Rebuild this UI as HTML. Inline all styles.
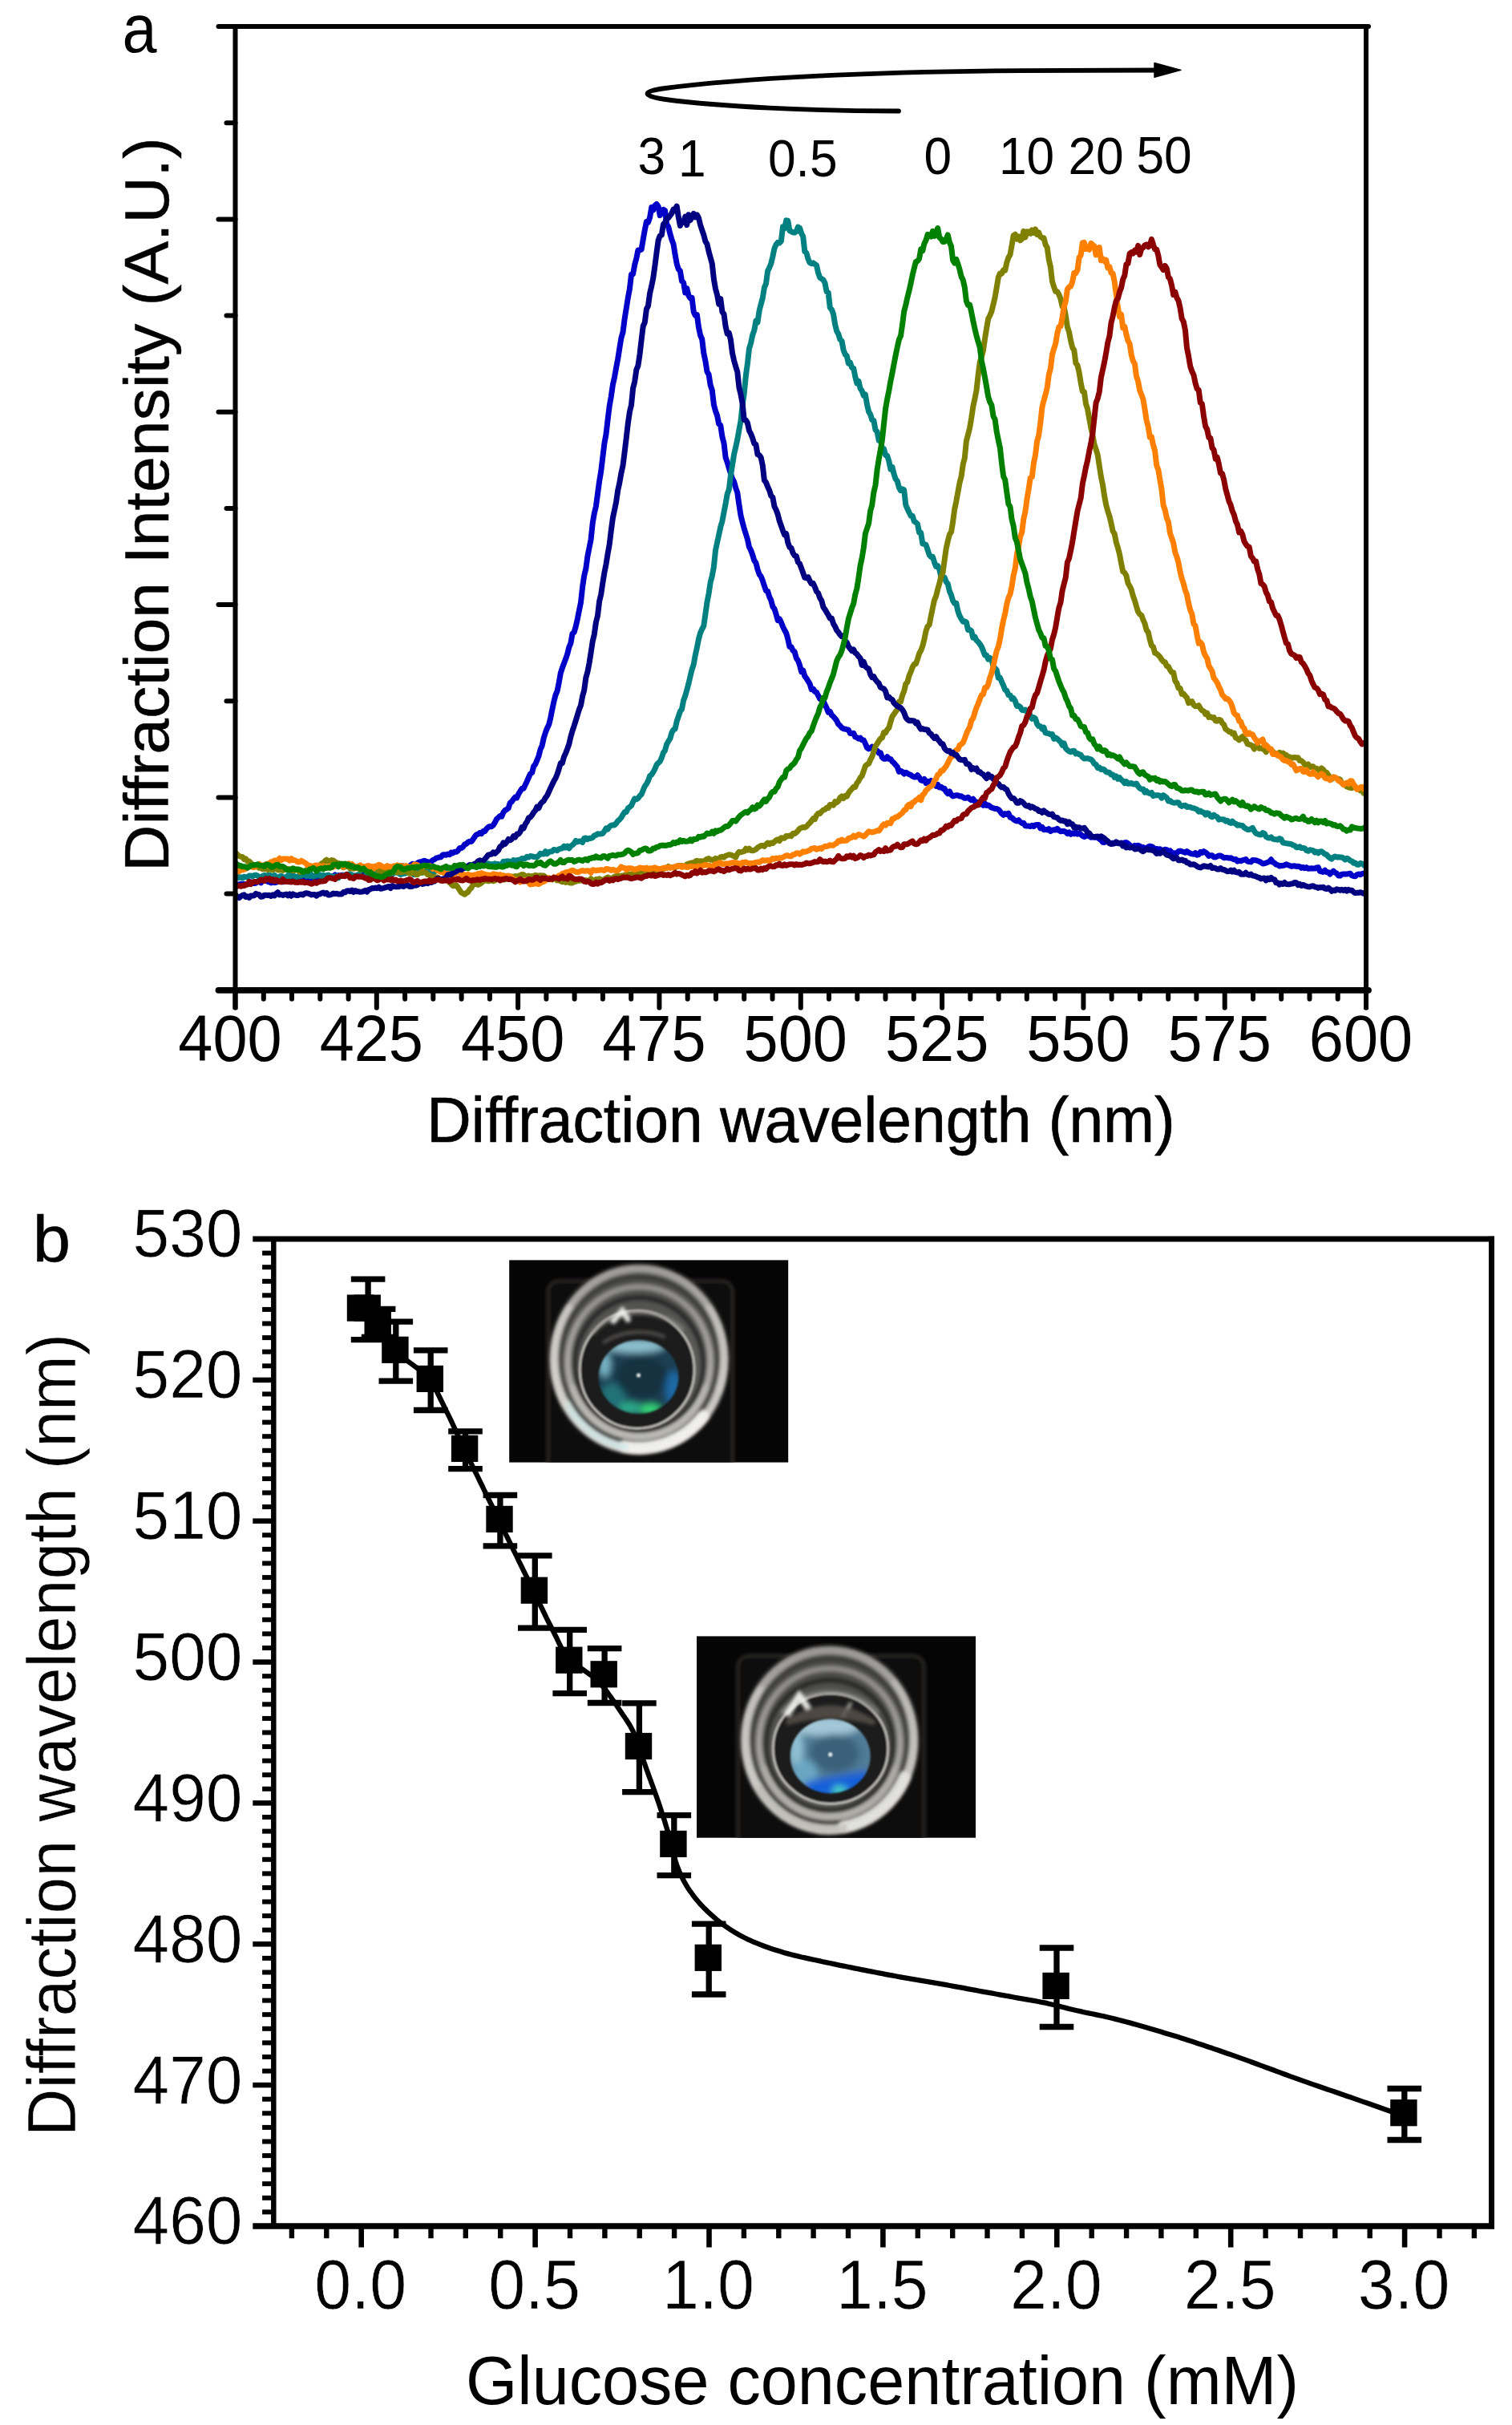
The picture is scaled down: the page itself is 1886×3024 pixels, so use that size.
<!DOCTYPE html>
<html lang="en">
<head>
<meta charset="utf-8">
<title>Diffraction spectra and glucose response</title>
<style>
html,body{margin:0;padding:0;background:#fff;}
body{width:1886px;height:3024px;overflow:hidden;}
svg{display:block;font-family:"Liberation Sans", sans-serif;fill:#000;}
</style>
</head>
<body>
<svg width="1886" height="3024" viewBox="0 0 1886 3024">
<rect width="1886" height="3024" fill="#fff"/>
<g id="panel-a">
<g fill="none" stroke-width="7.0" stroke-linejoin="round" stroke-linecap="butt">
<path d="M294.0,1102.6 L296.1,1103.1 L298.2,1103.2 L300.3,1102.2 L302.4,1103.0 L304.5,1102.3 L306.6,1102.9 L308.7,1102.7 L310.8,1101.1 L312.9,1099.9 L315.0,1101.6 L317.1,1101.4 L319.2,1101.2 L321.3,1099.4 L323.4,1099.7 L325.5,1100.8 L327.6,1098.5 L329.7,1098.5 L331.8,1096.8 L333.9,1099.3 L336.0,1099.9 L338.1,1101.0 L340.2,1099.1 L342.3,1100.7 L344.4,1100.4 L346.5,1099.4 L348.6,1097.8 L350.7,1098.9 L352.8,1099.8 L354.9,1098.8 L357.0,1098.4 L359.1,1099.6 L361.2,1099.8 L363.3,1099.1 L365.4,1098.3 L367.5,1096.9 L369.6,1096.8 L371.7,1098.8 L373.8,1097.7 L375.9,1097.8 L378.0,1096.7 L380.1,1096.3 L382.2,1095.1 L384.3,1096.6 L386.4,1096.8 L388.5,1094.8 L390.6,1095.2 L392.7,1095.5 L394.8,1095.1 L396.9,1098.5 L399.0,1098.0 L401.1,1096.2 L403.2,1095.2 L405.3,1093.6 L407.4,1092.1 L409.5,1093.2 L411.6,1092.9 L413.7,1092.8 L415.8,1093.6 L417.9,1090.9 L420.0,1092.6 L422.1,1091.6 L424.2,1092.5 L426.3,1091.2 L428.4,1091.2 L430.5,1091.2 L432.6,1090.9 L434.7,1091.3 L436.8,1090.8 L438.9,1093.2 L441.0,1095.0 L443.1,1092.5 L445.2,1091.8 L447.3,1092.1 L449.4,1092.6 L451.5,1092.5 L453.6,1090.6 L455.7,1090.6 L457.8,1090.4 L459.9,1091.8 L462.0,1089.6 L464.1,1089.7 L466.2,1091.4 L468.3,1091.6 L470.4,1091.5 L472.5,1089.7 L474.6,1090.8 L476.7,1089.8 L478.8,1090.4 L480.9,1089.9 L483.0,1089.8 L485.1,1090.0 L487.2,1089.1 L489.3,1088.9 L491.4,1087.4 L493.5,1085.8 L495.6,1084.9 L497.7,1084.1 L499.8,1081.6 L501.9,1079.6 L504.0,1081.4 L506.1,1080.9 L508.2,1082.1 L510.3,1081.3 L512.4,1078.7 L514.5,1077.3 L516.6,1078.0 L518.7,1077.6 L520.8,1076.3 L522.9,1075.0 L525.0,1074.8 L527.1,1074.0 L529.2,1073.2 L531.3,1074.1 L533.4,1074.8 L535.5,1074.9 L537.6,1075.1 L539.7,1072.5 L541.8,1071.9 L543.9,1070.2 L546.0,1069.6 L548.1,1068.9 L550.2,1068.7 L552.3,1066.0 L554.4,1065.7 L556.5,1066.3 L558.6,1065.0 L560.7,1065.8 L562.8,1063.1 L564.9,1063.9 L567.0,1062.2 L569.1,1062.3 L571.2,1060.8 L573.3,1057.6 L575.4,1057.6 L577.5,1056.1 L579.6,1052.9 L581.7,1052.3 L583.8,1050.2 L585.9,1049.2 L588.0,1049.5 L590.1,1046.6 L592.2,1043.3 L594.3,1040.8 L596.4,1040.2 L598.5,1038.6 L600.6,1039.7 L602.7,1036.4 L604.8,1036.7 L606.9,1033.5 L609.0,1031.5 L611.1,1030.5 L613.2,1030.7 L615.3,1028.8 L617.4,1025.5 L619.5,1021.4 L621.6,1019.5 L623.7,1017.5 L625.8,1018.2 L627.9,1013.0 L630.0,1010.4 L632.1,1009.3 L634.2,1007.7 L636.3,1001.2 L638.4,999.6 L640.5,996.5 L642.6,994.1 L644.7,994.9 L646.8,990.1 L648.9,986.7 L651.0,983.3 L653.1,983.2 L655.2,978.8 L657.3,974.4 L659.4,969.5 L661.5,964.9 L663.6,963.6 L665.7,955.5 L667.8,953.0 L669.9,947.9 L672.0,942.7 L674.1,934.4 L676.2,929.8 L678.3,920.0 L680.4,913.6 L682.5,908.1 L684.6,903.8 L686.7,895.3 L688.8,884.8 L690.9,874.9 L693.0,866.7 L695.1,861.7 L697.2,851.2 L699.3,839.3 L701.4,832.8 L703.5,827.2 L705.6,821.8 L707.7,815.6 L709.8,807.1 L711.9,802.1 L714.0,790.2 L716.1,788.4 L718.2,781.2 L720.3,772.0 L722.4,761.4 L724.5,751.2 L726.6,732.1 L728.7,717.8 L730.8,709.2 L732.9,693.7 L735.0,683.1 L737.1,672.7 L739.2,652.5 L741.3,640.2 L743.4,631.5 L745.5,615.8 L747.6,600.3 L749.7,587.6 L751.8,570.3 L753.9,552.9 L756.0,541.5 L758.1,523.4 L760.2,506.3 L762.3,494.5 L764.4,479.8 L766.5,470.4 L768.6,458.7 L770.7,447.6 L772.8,434.3 L774.9,421.5 L777.0,414.2 L779.1,397.8 L781.2,384.7 L783.3,371.3 L785.4,360.5 L787.5,342.1 L789.6,341.7 L791.7,330.0 L793.8,322.4 L795.9,312.0 L798.0,311.8 L800.1,311.2 L802.2,298.6 L804.3,286.7 L806.4,276.5 L808.5,277.3 L810.6,271.2 L812.7,258.5 L814.8,262.1 L816.9,256.2 L819.0,254.5 L821.1,257.3 L823.2,268.6 L825.3,262.7 L827.4,261.3 L829.5,262.5 L831.6,279.5 L833.7,282.8 L835.8,291.3 L837.9,298.8 L840.0,304.3 L842.1,317.4 L844.2,329.0 L846.3,335.7 L848.4,337.7 L850.5,350.5 L852.6,352.3 L854.7,365.0 L856.8,359.5 L858.9,368.5 L861.0,371.8 L863.1,371.3 L865.2,388.7 L867.3,393.4 L869.4,392.7 L871.5,408.2 L873.6,418.1 L875.7,423.0 L877.8,440.3 L879.9,450.2 L882.0,463.5 L884.1,467.0 L886.2,480.4 L888.3,486.7 L890.4,504.7 L892.5,512.5 L894.6,518.3 L896.7,528.7 L898.8,530.5 L900.9,544.7 L903.0,552.7 L905.1,570.6 L907.2,576.4 L909.3,583.8 L911.4,590.4 L913.5,596.8 L915.6,600.7 L917.7,608.3 L919.8,614.4 L921.9,629.3 L924.0,642.8 L926.1,651.2 L928.2,659.1 L930.3,665.7 L932.4,672.6 L934.5,682.2 L936.6,686.2 L938.7,692.0 L940.8,699.0 L942.9,701.9 L945.0,710.0 L947.1,716.2 L949.2,718.7 L951.3,724.0 L953.4,730.7 L955.5,736.6 L957.6,737.3 L959.7,744.3 L961.8,748.6 L963.9,756.7 L966.0,759.2 L968.1,766.0 L970.2,773.7 L972.3,771.9 L974.4,776.0 L976.5,781.5 L978.6,785.6 L980.7,789.5 L982.8,796.9 L984.9,806.5 L987.0,806.7 L989.1,811.2 L991.2,813.0 L993.3,820.7 L995.4,823.7 L997.5,829.4 L999.6,837.7 L1001.7,836.0 L1003.8,843.2 L1005.9,845.9 L1008.0,849.3 L1010.1,852.8 L1012.2,859.6 L1014.3,859.0 L1016.4,862.3 L1018.5,863.4 L1020.6,867.4 L1022.7,871.5 L1024.8,873.0 L1026.9,873.4 L1029.0,878.7 L1031.1,882.8 L1033.2,888.2 L1035.3,887.3 L1037.4,891.7 L1039.5,893.4 L1041.6,895.9 L1043.7,898.8 L1045.8,903.1 L1047.9,904.9 L1050.0,907.4 L1052.1,908.7 L1054.2,909.1 L1056.3,909.7 L1058.4,910.2 L1060.5,914.5 L1062.6,914.6 L1064.7,914.3 L1066.8,919.0 L1068.9,919.6 L1071.0,921.3 L1073.1,920.2 L1075.2,922.8 L1077.3,923.0 L1079.4,927.2 L1081.5,932.4 L1083.6,933.9 L1085.7,932.9 L1087.8,931.1 L1089.9,932.9 L1092.0,935.9 L1094.1,936.0 L1096.2,939.0 L1098.3,938.7 L1100.4,944.6 L1102.5,946.3 L1104.6,946.2 L1106.7,943.7 L1108.8,946.5 L1110.9,946.4 L1113.0,949.6 L1115.1,951.4 L1117.2,953.9 L1119.3,956.3 L1121.4,962.3 L1123.5,961.3 L1125.6,962.6 L1127.7,965.0 L1129.8,963.2 L1131.9,964.3 L1134.0,965.7 L1136.1,966.3 L1138.2,968.1 L1140.3,968.9 L1142.4,969.0 L1144.5,966.6 L1146.6,969.3 L1148.7,973.0 L1150.8,973.6 L1152.9,971.5 L1155.0,976.7 L1157.1,974.5 L1159.2,976.3 L1161.3,973.5 L1163.4,976.0 L1165.5,976.0 L1167.6,980.3 L1169.7,978.4 L1171.8,982.0 L1173.9,981.3 L1176.0,983.4 L1178.1,983.3 L1180.2,987.4 L1182.3,989.7 L1184.4,986.9 L1186.5,990.9 L1188.6,992.8 L1190.7,992.2 L1192.8,991.8 L1194.9,991.8 L1197.0,992.9 L1199.1,992.8 L1201.2,994.2 L1203.3,995.3 L1205.4,995.2 L1207.5,994.2 L1209.6,996.4 L1211.7,997.7 L1213.8,996.3 L1215.9,999.4 L1218.0,1000.1 L1220.1,1000.8 L1222.2,1003.0 L1224.3,1001.8 L1226.4,1004.3 L1228.5,1001.9 L1230.6,1004.5 L1232.7,1003.9 L1234.8,1005.3 L1236.9,1007.2 L1239.0,1007.7 L1241.1,1008.4 L1243.2,1008.5 L1245.3,1009.4 L1247.4,1011.7 L1249.5,1014.6 L1251.6,1016.3 L1253.7,1014.6 L1255.8,1015.5 L1257.9,1014.1 L1260.0,1019.2 L1262.1,1019.6 L1264.2,1021.6 L1266.3,1023.2 L1268.4,1023.9 L1270.5,1022.7 L1272.6,1025.0 L1274.7,1026.5 L1276.8,1026.2 L1278.9,1029.8 L1281.0,1030.1 L1283.1,1030.1 L1285.2,1030.6 L1287.3,1029.3 L1289.4,1030.5 L1291.5,1028.7 L1293.6,1028.6 L1295.7,1028.4 L1297.8,1032.9 L1299.9,1031.4 L1302.0,1034.7 L1304.1,1034.4 L1306.2,1034.9 L1308.3,1033.6 L1310.4,1036.6 L1312.5,1035.1 L1314.6,1034.8 L1316.7,1035.0 L1318.8,1033.3 L1320.9,1035.5 L1323.0,1036.8 L1325.1,1036.6 L1327.2,1036.6 L1329.3,1037.4 L1331.4,1039.5 L1333.5,1037.9 L1335.6,1040.3 L1337.7,1038.9 L1339.8,1039.8 L1341.9,1037.9 L1344.0,1040.2 L1346.1,1039.2 L1348.2,1040.7 L1350.3,1042.4 L1352.4,1043.5 L1354.5,1042.5 L1356.6,1042.3 L1358.7,1042.2 L1360.8,1044.3 L1362.9,1043.9 L1365.0,1044.2 L1367.1,1044.1 L1369.2,1044.5 L1371.3,1046.1 L1373.4,1047.6 L1375.5,1050.2 L1377.6,1050.5 L1379.7,1049.4 L1381.8,1049.5 L1383.9,1051.6 L1386.0,1051.8 L1388.1,1051.2 L1390.2,1051.4 L1392.3,1050.6 L1394.4,1051.7 L1396.5,1051.7 L1398.6,1051.5 L1400.7,1052.1 L1402.8,1050.7 L1404.9,1050.6 L1407.0,1051.8 L1409.1,1053.6 L1411.2,1055.8 L1413.3,1055.9 L1415.4,1054.3 L1417.5,1054.8 L1419.6,1054.2 L1421.7,1055.1 L1423.8,1056.6 L1425.9,1056.5 L1428.0,1058.6 L1430.1,1057.6 L1432.2,1056.0 L1434.3,1055.1 L1436.4,1055.6 L1438.5,1056.8 L1440.6,1058.7 L1442.7,1058.5 L1444.8,1058.9 L1446.9,1058.7 L1449.0,1060.9 L1451.1,1060.2 L1453.2,1059.2 L1455.3,1059.6 L1457.4,1061.5 L1459.5,1060.7 L1461.6,1063.3 L1463.7,1063.6 L1465.8,1064.0 L1467.9,1063.9 L1470.0,1061.5 L1472.1,1061.1 L1474.2,1061.8 L1476.3,1062.5 L1478.4,1063.2 L1480.5,1061.5 L1482.6,1063.1 L1484.7,1064.2 L1486.8,1064.9 L1488.9,1065.2 L1491.0,1063.6 L1493.1,1066.2 L1495.2,1065.6 L1497.3,1062.4 L1499.4,1063.4 L1501.5,1061.6 L1503.6,1063.0 L1505.7,1064.4 L1507.8,1067.4 L1509.9,1066.7 L1512.0,1066.7 L1514.1,1068.8 L1516.2,1069.0 L1518.3,1067.9 L1520.4,1067.0 L1522.5,1067.1 L1524.6,1068.2 L1526.7,1069.8 L1528.8,1069.5 L1530.9,1069.5 L1533.0,1070.1 L1535.1,1069.7 L1537.2,1070.8 L1539.3,1071.8 L1541.4,1071.4 L1543.5,1074.2 L1545.6,1073.2 L1547.7,1073.7 L1549.8,1072.8 L1551.9,1072.2 L1554.0,1071.5 L1556.1,1074.1 L1558.2,1074.6 L1560.3,1074.9 L1562.4,1072.5 L1564.5,1072.7 L1566.6,1072.8 L1568.7,1073.5 L1570.8,1074.2 L1572.9,1075.5 L1575.0,1077.0 L1577.1,1076.8 L1579.2,1076.1 L1581.3,1075.2 L1583.4,1074.5 L1585.5,1071.8 L1587.6,1075.2 L1589.7,1076.2 L1591.8,1078.1 L1593.9,1078.6 L1596.0,1080.0 L1598.1,1079.5 L1600.2,1079.4 L1602.3,1079.0 L1604.4,1077.7 L1606.5,1078.6 L1608.6,1079.4 L1610.7,1080.3 L1612.8,1080.0 L1614.9,1079.8 L1617.0,1080.5 L1619.1,1080.2 L1621.2,1080.6 L1623.3,1082.4 L1625.4,1081.4 L1627.5,1082.7 L1629.6,1081.6 L1631.7,1083.3 L1633.8,1083.0 L1635.9,1082.7 L1638.0,1082.9 L1640.1,1083.1 L1642.2,1081.9 L1644.3,1081.6 L1646.4,1086.4 L1648.5,1087.0 L1650.6,1087.4 L1652.7,1085.3 L1654.8,1087.5 L1656.9,1087.8 L1659.0,1090.0 L1661.1,1087.9 L1663.2,1086.2 L1665.3,1087.9 L1667.4,1089.2 L1669.5,1091.9 L1671.6,1092.1 L1673.7,1090.2 L1675.8,1090.1 L1677.9,1090.0 L1680.0,1090.1 L1682.1,1089.5 L1684.2,1089.2 L1686.3,1091.8 L1688.4,1092.6 L1690.5,1092.8 L1692.6,1090.7 L1694.7,1089.9 L1696.8,1090.8 L1698.9,1089.6 L1701.0,1089.0 L1703.1,1089.1" stroke="#0000c8"/>
<path d="M294.0,1093.9 L296.1,1092.8 L298.2,1094.6 L300.3,1093.8 L302.4,1095.1 L304.5,1093.2 L306.6,1093.8 L308.7,1093.5 L310.8,1092.0 L312.9,1092.0 L315.0,1092.8 L317.1,1091.4 L319.2,1091.2 L321.3,1092.0 L323.4,1093.9 L325.5,1093.8 L327.6,1092.3 L329.7,1091.4 L331.8,1091.8 L333.9,1091.8 L336.0,1091.0 L338.1,1092.2 L340.2,1092.4 L342.3,1091.4 L344.4,1093.3 L346.5,1094.5 L348.6,1093.1 L350.7,1092.1 L352.8,1093.5 L354.9,1094.0 L357.0,1095.4 L359.1,1091.6 L361.2,1093.9 L363.3,1090.0 L365.4,1091.9 L367.5,1092.5 L369.6,1094.0 L371.7,1093.2 L373.8,1091.9 L375.9,1092.2 L378.0,1091.1 L380.1,1089.7 L382.2,1092.5 L384.3,1091.2 L386.4,1092.6 L388.5,1090.7 L390.6,1093.1 L392.7,1092.5 L394.8,1091.6 L396.9,1091.9 L399.0,1090.8 L401.1,1093.3 L403.2,1091.4 L405.3,1091.9 L407.4,1091.6 L409.5,1091.1 L411.6,1092.8 L413.7,1093.0 L415.8,1093.5 L417.9,1092.8 L420.0,1092.5 L422.1,1094.7 L424.2,1092.2 L426.3,1092.6 L428.4,1091.6 L430.5,1091.5 L432.6,1091.4 L434.7,1090.0 L436.8,1089.7 L438.9,1091.1 L441.0,1091.7 L443.1,1092.2 L445.2,1091.4 L447.3,1090.4 L449.4,1091.4 L451.5,1093.2 L453.6,1093.6 L455.7,1092.0 L457.8,1090.9 L459.9,1091.3 L462.0,1090.2 L464.1,1090.6 L466.2,1090.8 L468.3,1089.9 L470.4,1091.3 L472.5,1090.2 L474.6,1091.0 L476.7,1088.8 L478.8,1089.0 L480.9,1088.5 L483.0,1090.3 L485.1,1089.9 L487.2,1090.8 L489.3,1090.2 L491.4,1088.7 L493.5,1087.6 L495.6,1088.1 L497.7,1089.2 L499.8,1090.5 L501.9,1089.9 L504.0,1089.2 L506.1,1089.0 L508.2,1086.0 L510.3,1086.8 L512.4,1087.3 L514.5,1087.8 L516.6,1090.8 L518.7,1090.0 L520.8,1086.2 L522.9,1087.5 L525.0,1087.4 L527.1,1088.3 L529.2,1086.2 L531.3,1087.2 L533.4,1086.6 L535.5,1087.0 L537.6,1087.3 L539.7,1087.2 L541.8,1087.6 L543.9,1084.5 L546.0,1084.3 L548.1,1083.2 L550.2,1084.5 L552.3,1085.8 L554.4,1084.2 L556.5,1084.8 L558.6,1085.2 L560.7,1084.3 L562.8,1085.2 L564.9,1084.8 L567.0,1084.9 L569.1,1085.0 L571.2,1085.5 L573.3,1082.7 L575.4,1082.7 L577.5,1082.2 L579.6,1082.6 L581.7,1081.9 L583.8,1081.3 L585.9,1080.3 L588.0,1079.6 L590.1,1080.6 L592.2,1079.2 L594.3,1080.2 L596.4,1079.7 L598.5,1080.7 L600.6,1079.1 L602.7,1079.1 L604.8,1077.4 L606.9,1077.4 L609.0,1076.8 L611.1,1079.4 L613.2,1077.6 L615.3,1078.1 L617.4,1076.7 L619.5,1077.9 L621.6,1077.5 L623.7,1078.8 L625.8,1079.0 L627.9,1074.2 L630.0,1074.6 L632.1,1073.8 L634.2,1073.9 L636.3,1074.2 L638.4,1075.3 L640.5,1072.5 L642.6,1073.5 L644.7,1072.8 L646.8,1072.5 L648.9,1071.8 L651.0,1070.4 L653.1,1071.1 L655.2,1070.5 L657.3,1068.2 L659.4,1068.9 L661.5,1067.6 L663.6,1067.7 L665.7,1068.6 L667.8,1068.6 L669.9,1068.8 L672.0,1066.7 L674.1,1064.2 L676.2,1065.0 L678.3,1064.9 L680.4,1061.6 L682.5,1064.7 L684.6,1062.4 L686.7,1062.0 L688.8,1061.7 L690.9,1059.5 L693.0,1059.9 L695.1,1060.7 L697.2,1058.9 L699.3,1058.2 L701.4,1057.8 L703.5,1055.2 L705.6,1057.0 L707.7,1055.1 L709.8,1057.9 L711.9,1055.0 L714.0,1053.8 L716.1,1051.7 L718.2,1048.5 L720.3,1049.9 L722.4,1049.0 L724.5,1048.9 L726.6,1050.4 L728.7,1045.3 L730.8,1045.0 L732.9,1046.7 L735.0,1045.3 L737.1,1045.4 L739.2,1044.5 L741.3,1041.9 L743.4,1041.4 L745.5,1039.8 L747.6,1039.9 L749.7,1039.8 L751.8,1039.3 L753.9,1036.5 L756.0,1032.9 L758.1,1034.2 L760.2,1030.9 L762.3,1029.4 L764.4,1028.7 L766.5,1029.0 L768.6,1026.7 L770.7,1023.6 L772.8,1022.1 L774.9,1019.6 L777.0,1015.8 L779.1,1012.6 L781.2,1012.7 L783.3,1007.9 L785.4,1006.4 L787.5,1004.6 L789.6,1000.0 L791.7,995.9 L793.8,996.8 L795.9,995.4 L798.0,992.5 L800.1,990.7 L802.2,985.5 L804.3,980.3 L806.4,977.6 L808.5,973.6 L810.6,967.6 L812.7,966.0 L814.8,962.8 L816.9,958.9 L819.0,953.7 L821.1,951.5 L823.2,949.5 L825.3,945.0 L827.4,938.7 L829.5,935.9 L831.6,928.2 L833.7,924.4 L835.8,921.2 L837.9,913.8 L840.0,910.1 L842.1,908.9 L844.2,899.4 L846.3,893.3 L848.4,887.1 L850.5,884.3 L852.6,873.4 L854.7,867.8 L856.8,860.4 L858.9,852.5 L861.0,843.5 L863.1,834.9 L865.2,828.7 L867.3,816.9 L869.4,807.6 L871.5,796.8 L873.6,789.2 L875.7,784.5 L877.8,780.5 L879.9,765.8 L882.0,750.7 L884.1,740.1 L886.2,726.2 L888.3,718.2 L890.4,706.9 L892.5,686.4 L894.6,676.4 L896.7,667.1 L898.8,657.0 L900.9,649.9 L903.0,638.9 L905.1,628.0 L907.2,616.1 L909.3,610.6 L911.4,592.9 L913.5,580.1 L915.6,566.5 L917.7,557.6 L919.8,548.1 L921.9,536.0 L924.0,524.9 L926.1,505.6 L928.2,491.0 L930.3,468.8 L932.4,453.6 L934.5,434.5 L936.6,428.0 L938.7,417.8 L940.8,412.1 L942.9,400.0 L945.0,402.1 L947.1,387.4 L949.2,379.3 L951.3,371.4 L953.4,358.7 L955.5,353.7 L957.6,337.9 L959.7,333.8 L961.8,328.6 L963.9,319.8 L966.0,309.6 L968.1,305.0 L970.2,302.3 L972.3,303.0 L974.4,300.7 L976.5,282.7 L978.6,284.8 L980.7,274.9 L982.8,275.3 L984.9,287.6 L987.0,288.7 L989.1,289.8 L991.2,290.1 L993.3,288.7 L995.4,283.1 L997.5,284.3 L999.6,290.7 L1001.7,294.9 L1003.8,313.6 L1005.9,315.4 L1008.0,322.9 L1010.1,327.5 L1012.2,328.7 L1014.3,327.9 L1016.4,329.5 L1018.5,330.8 L1020.6,340.2 L1022.7,346.2 L1024.8,347.6 L1026.9,348.9 L1029.0,352.8 L1031.1,363.6 L1033.2,365.0 L1035.3,383.5 L1037.4,386.0 L1039.5,391.6 L1041.6,404.4 L1043.7,412.8 L1045.8,416.5 L1047.9,423.5 L1050.0,425.0 L1052.1,436.5 L1054.2,441.9 L1056.3,443.9 L1058.4,453.1 L1060.5,452.2 L1062.6,458.4 L1064.7,459.2 L1066.8,469.9 L1068.9,478.0 L1071.0,475.2 L1073.1,484.5 L1075.2,487.3 L1077.3,493.5 L1079.4,492.0 L1081.5,504.5 L1083.6,513.4 L1085.7,516.8 L1087.8,523.6 L1089.9,524.5 L1092.0,536.1 L1094.1,538.2 L1096.2,549.0 L1098.3,547.6 L1100.4,559.6 L1102.5,559.5 L1104.6,567.7 L1106.7,568.3 L1108.8,575.0 L1110.9,585.1 L1113.0,582.5 L1115.1,591.1 L1117.2,597.5 L1119.3,599.8 L1121.4,608.1 L1123.5,611.6 L1125.6,609.8 L1127.7,611.1 L1129.8,629.7 L1131.9,634.5 L1134.0,639.0 L1136.1,643.2 L1138.2,643.3 L1140.3,650.1 L1142.4,651.4 L1144.5,653.5 L1146.6,664.0 L1148.7,664.3 L1150.8,678.0 L1152.9,678.4 L1155.0,679.4 L1157.1,685.7 L1159.2,692.0 L1161.3,694.4 L1163.4,694.2 L1165.5,701.1 L1167.6,706.4 L1169.7,705.5 L1171.8,710.1 L1173.9,719.1 L1176.0,720.8 L1178.1,720.0 L1180.2,725.5 L1182.3,728.0 L1184.4,737.3 L1186.5,742.0 L1188.6,748.9 L1190.7,752.5 L1192.8,752.3 L1194.9,762.3 L1197.0,768.0 L1199.1,771.7 L1201.2,775.2 L1203.3,774.8 L1205.4,776.1 L1207.5,785.6 L1209.6,785.2 L1211.7,786.8 L1213.8,795.3 L1215.9,793.9 L1218.0,798.5 L1220.1,800.4 L1222.2,803.2 L1224.3,806.3 L1226.4,811.4 L1228.5,817.0 L1230.6,817.1 L1232.7,822.1 L1234.8,820.5 L1236.9,822.7 L1239.0,830.9 L1241.1,833.1 L1243.2,835.5 L1245.3,845.2 L1247.4,845.1 L1249.5,850.3 L1251.6,854.8 L1253.7,860.2 L1255.8,861.4 L1257.9,866.7 L1260.0,866.9 L1262.1,871.6 L1264.2,870.7 L1266.3,874.3 L1268.4,880.5 L1270.5,880.0 L1272.6,881.5 L1274.7,885.3 L1276.8,885.8 L1278.9,885.0 L1281.0,887.7 L1283.1,886.9 L1285.2,893.1 L1287.3,896.4 L1289.4,894.7 L1291.5,896.2 L1293.6,902.8 L1295.7,905.6 L1297.8,905.8 L1299.9,909.1 L1302.0,907.1 L1304.1,913.9 L1306.2,914.4 L1308.3,914.8 L1310.4,915.7 L1312.5,915.6 L1314.6,921.4 L1316.7,919.8 L1318.8,921.2 L1320.9,923.3 L1323.0,925.1 L1325.1,929.3 L1327.2,926.9 L1329.3,933.2 L1331.4,935.3 L1333.5,936.9 L1335.6,937.8 L1337.7,936.5 L1339.8,936.2 L1341.9,940.0 L1344.0,939.4 L1346.1,940.7 L1348.2,941.4 L1350.3,944.4 L1352.4,946.1 L1354.5,945.7 L1356.6,945.7 L1358.7,946.3 L1360.8,946.8 L1362.9,949.0 L1365.0,952.5 L1367.1,953.2 L1369.2,957.6 L1371.3,957.0 L1373.4,959.5 L1375.5,959.0 L1377.6,960.0 L1379.7,962.7 L1381.8,963.1 L1383.9,963.3 L1386.0,966.0 L1388.1,965.9 L1390.2,969.3 L1392.3,967.9 L1394.4,971.3 L1396.5,969.7 L1398.6,972.3 L1400.7,973.8 L1402.8,976.6 L1404.9,974.7 L1407.0,977.3 L1409.1,977.0 L1411.2,976.5 L1413.3,977.8 L1415.4,978.0 L1417.5,977.0 L1419.6,980.5 L1421.7,983.0 L1423.8,984.1 L1425.9,983.9 L1428.0,988.2 L1430.1,986.5 L1432.2,988.8 L1434.3,989.6 L1436.4,988.5 L1438.5,992.5 L1440.6,991.7 L1442.7,991.7 L1444.8,991.7 L1446.9,992.3 L1449.0,995.1 L1451.1,991.7 L1453.2,993.2 L1455.3,994.8 L1457.4,999.0 L1459.5,998.4 L1461.6,1000.3 L1463.7,1001.0 L1465.8,1001.2 L1467.9,1000.7 L1470.0,1000.7 L1472.1,1004.2 L1474.2,1005.4 L1476.3,1004.4 L1478.4,1004.2 L1480.5,1006.5 L1482.6,1006.1 L1484.7,1006.4 L1486.8,1007.5 L1488.9,1007.7 L1491.0,1008.6 L1493.1,1009.4 L1495.2,1012.1 L1497.3,1011.0 L1499.4,1012.7 L1501.5,1013.2 L1503.6,1015.9 L1505.7,1013.8 L1507.8,1014.6 L1509.9,1017.8 L1512.0,1018.7 L1514.1,1016.1 L1516.2,1017.9 L1518.3,1018.8 L1520.4,1022.2 L1522.5,1021.7 L1524.6,1021.7 L1526.7,1022.0 L1528.8,1024.1 L1530.9,1023.3 L1533.0,1025.4 L1535.1,1026.5 L1537.2,1024.1 L1539.3,1026.5 L1541.4,1027.1 L1543.5,1029.3 L1545.6,1028.7 L1547.7,1029.3 L1549.8,1029.4 L1551.9,1031.9 L1554.0,1033.2 L1556.1,1034.4 L1558.2,1034.6 L1560.3,1033.5 L1562.4,1032.4 L1564.5,1036.4 L1566.6,1039.3 L1568.7,1039.8 L1570.8,1040.8 L1572.9,1040.9 L1575.0,1038.5 L1577.1,1039.2 L1579.2,1043.3 L1581.3,1044.7 L1583.4,1044.9 L1585.5,1043.9 L1587.6,1046.1 L1589.7,1046.7 L1591.8,1046.8 L1593.9,1047.2 L1596.0,1045.6 L1598.1,1046.5 L1600.2,1050.8 L1602.3,1051.2 L1604.4,1051.6 L1606.5,1052.1 L1608.6,1052.2 L1610.7,1052.6 L1612.8,1053.9 L1614.9,1054.5 L1617.0,1056.7 L1619.1,1056.7 L1621.2,1055.7 L1623.3,1057.6 L1625.4,1057.4 L1627.5,1057.9 L1629.6,1060.5 L1631.7,1061.3 L1633.8,1059.8 L1635.9,1060.1 L1638.0,1060.6 L1640.1,1063.1 L1642.2,1062.1 L1644.3,1063.8 L1646.4,1062.0 L1648.5,1061.7 L1650.6,1063.3 L1652.7,1065.2 L1654.8,1065.7 L1656.9,1068.3 L1659.0,1070.0 L1661.1,1071.2 L1663.2,1068.9 L1665.3,1068.0 L1667.4,1068.9 L1669.5,1068.7 L1671.6,1069.0 L1673.7,1069.0 L1675.8,1070.3 L1677.9,1072.0 L1680.0,1070.2 L1682.1,1071.3 L1684.2,1073.3 L1686.3,1073.8 L1688.4,1076.3 L1690.5,1076.0 L1692.6,1078.2 L1694.7,1078.2 L1696.8,1076.5 L1698.9,1076.9 L1701.0,1078.2 L1703.1,1080.9" stroke="#008080"/>
<path d="M294.0,1063.5 L296.1,1065.5 L298.2,1067.4 L300.3,1068.2 L302.4,1068.5 L304.5,1071.6 L306.6,1070.8 L308.7,1074.0 L310.8,1074.1 L312.9,1076.1 L315.0,1078.0 L317.1,1078.6 L319.2,1080.7 L321.3,1080.4 L323.4,1082.5 L325.5,1081.9 L327.6,1083.8 L329.7,1083.8 L331.8,1082.9 L333.9,1084.6 L336.0,1083.8 L338.1,1084.2 L340.2,1084.8 L342.3,1083.5 L344.4,1082.6 L346.5,1084.9 L348.6,1084.9 L350.7,1084.2 L352.8,1085.4 L354.9,1084.3 L357.0,1083.3 L359.1,1083.5 L361.2,1084.0 L363.3,1085.0 L365.4,1085.8 L367.5,1085.3 L369.6,1083.9 L371.7,1084.8 L373.8,1087.5 L375.9,1086.5 L378.0,1086.2 L380.1,1086.2 L382.2,1084.9 L384.3,1085.3 L386.4,1084.2 L388.5,1082.8 L390.6,1081.4 L392.7,1081.3 L394.8,1082.0 L396.9,1079.8 L399.0,1079.1 L401.1,1076.8 L403.2,1076.4 L405.3,1073.7 L407.4,1072.2 L409.5,1074.2 L411.6,1073.4 L413.7,1072.6 L415.8,1073.0 L417.9,1074.5 L420.0,1076.3 L422.1,1076.2 L424.2,1077.4 L426.3,1077.9 L428.4,1081.7 L430.5,1080.8 L432.6,1080.4 L434.7,1080.6 L436.8,1083.1 L438.9,1082.6 L441.0,1083.3 L443.1,1082.3 L445.2,1082.8 L447.3,1082.3 L449.4,1084.2 L451.5,1082.1 L453.6,1082.1 L455.7,1083.1 L457.8,1083.6 L459.9,1083.2 L462.0,1083.0 L464.1,1084.8 L466.2,1083.1 L468.3,1083.1 L470.4,1084.4 L472.5,1085.8 L474.6,1086.6 L476.7,1085.2 L478.8,1086.6 L480.9,1086.4 L483.0,1088.2 L485.1,1086.1 L487.2,1088.2 L489.3,1088.2 L491.4,1087.0 L493.5,1086.6 L495.6,1087.9 L497.7,1087.2 L499.8,1087.4 L501.9,1087.4 L504.0,1086.3 L506.1,1086.7 L508.2,1086.9 L510.3,1089.2 L512.4,1089.3 L514.5,1088.4 L516.6,1087.8 L518.7,1090.3 L520.8,1090.7 L522.9,1088.9 L525.0,1088.2 L527.1,1087.3 L529.2,1087.9 L531.3,1088.3 L533.4,1090.7 L535.5,1091.2 L537.6,1092.8 L539.7,1093.9 L541.8,1093.3 L543.9,1094.2 L546.0,1094.0 L548.1,1097.1 L550.2,1097.1 L552.3,1096.4 L554.4,1096.8 L556.5,1097.9 L558.6,1098.4 L560.7,1100.5 L562.8,1102.5 L564.9,1104.7 L567.0,1104.3 L569.1,1103.8 L571.2,1106.6 L573.3,1109.8 L575.4,1113.2 L577.5,1114.2 L579.6,1115.3 L581.7,1113.5 L583.8,1112.5 L585.9,1108.9 L588.0,1107.2 L590.1,1103.2 L592.2,1101.9 L594.3,1102.7 L596.4,1103.3 L598.5,1102.2 L600.6,1100.9 L602.7,1098.9 L604.8,1098.2 L606.9,1097.9 L609.0,1098.8 L611.1,1098.2 L613.2,1097.9 L615.3,1098.8 L617.4,1098.0 L619.5,1096.3 L621.6,1093.6 L623.7,1096.6 L625.8,1096.2 L627.9,1097.1 L630.0,1096.7 L632.1,1095.1 L634.2,1093.6 L636.3,1094.4 L638.4,1093.1 L640.5,1093.2 L642.6,1092.5 L644.7,1095.0 L646.8,1092.0 L648.9,1091.9 L651.0,1090.4 L653.1,1090.8 L655.2,1092.3 L657.3,1092.4 L659.4,1092.1 L661.5,1093.4 L663.6,1092.6 L665.7,1093.4 L667.8,1091.4 L669.9,1092.1 L672.0,1091.9 L674.1,1091.7 L676.2,1091.9 L678.3,1092.0 L680.4,1093.9 L682.5,1095.3 L684.6,1096.1 L686.7,1095.6 L688.8,1096.9 L690.9,1093.9 L693.0,1094.9 L695.1,1097.9 L697.2,1097.0 L699.3,1098.9 L701.4,1099.8 L703.5,1098.3 L705.6,1100.4 L707.7,1097.8 L709.8,1100.6 L711.9,1101.1 L714.0,1100.9 L716.1,1099.7 L718.2,1099.4 L720.3,1098.0 L722.4,1098.4 L724.5,1097.9 L726.6,1097.3 L728.7,1098.4 L730.8,1097.5 L732.9,1098.8 L735.0,1098.4 L737.1,1095.7 L739.2,1098.2 L741.3,1097.9 L743.4,1096.6 L745.5,1096.7 L747.6,1095.8 L749.7,1097.1 L751.8,1097.3 L753.9,1096.3 L756.0,1095.2 L758.1,1093.9 L760.2,1095.4 L762.3,1095.1 L764.4,1095.4 L766.5,1093.0 L768.6,1092.7 L770.7,1091.6 L772.8,1093.3 L774.9,1092.1 L777.0,1092.2 L779.1,1091.3 L781.2,1091.1 L783.3,1089.9 L785.4,1090.5 L787.5,1090.0 L789.6,1090.9 L791.7,1089.8 L793.8,1087.6 L795.9,1088.5 L798.0,1088.6 L800.1,1087.8 L802.2,1085.5 L804.3,1087.4 L806.4,1086.6 L808.5,1086.9 L810.6,1086.7 L812.7,1084.4 L814.8,1087.5 L816.9,1086.0 L819.0,1087.2 L821.1,1084.7 L823.2,1084.3 L825.3,1083.2 L827.4,1083.5 L829.5,1082.2 L831.6,1082.6 L833.7,1080.5 L835.8,1082.0 L837.9,1081.4 L840.0,1081.7 L842.1,1081.8 L844.2,1080.7 L846.3,1079.6 L848.4,1079.8 L850.5,1079.5 L852.6,1080.9 L854.7,1080.4 L856.8,1077.7 L858.9,1077.0 L861.0,1076.4 L863.1,1075.8 L865.2,1076.7 L867.3,1074.2 L869.4,1073.2 L871.5,1074.7 L873.6,1073.7 L875.7,1073.7 L877.8,1074.6 L879.9,1072.7 L882.0,1071.2 L884.1,1070.6 L886.2,1072.1 L888.3,1072.4 L890.4,1071.7 L892.5,1070.4 L894.6,1071.4 L896.7,1070.9 L898.8,1068.9 L900.9,1068.3 L903.0,1069.2 L905.1,1067.2 L907.2,1066.5 L909.3,1065.8 L911.4,1066.0 L913.5,1066.8 L915.6,1067.8 L917.7,1069.0 L919.8,1064.7 L921.9,1062.3 L924.0,1062.8 L926.1,1062.2 L928.2,1061.7 L930.3,1058.3 L932.4,1060.2 L934.5,1058.2 L936.6,1060.5 L938.7,1060.7 L940.8,1060.3 L942.9,1059.1 L945.0,1057.1 L947.1,1055.8 L949.2,1054.4 L951.3,1054.6 L953.4,1055.4 L955.5,1053.0 L957.6,1051.1 L959.7,1052.7 L961.8,1051.0 L963.9,1051.5 L966.0,1049.7 L968.1,1047.7 L970.2,1046.7 L972.3,1048.6 L974.4,1044.7 L976.5,1045.3 L978.6,1045.2 L980.7,1042.5 L982.8,1042.8 L984.9,1041.9 L987.0,1042.8 L989.1,1039.3 L991.2,1039.6 L993.3,1038.1 L995.4,1035.8 L997.5,1033.2 L999.6,1032.3 L1001.7,1031.5 L1003.8,1031.9 L1005.9,1030.7 L1008.0,1028.3 L1010.1,1026.3 L1012.2,1023.7 L1014.3,1020.7 L1016.4,1021.7 L1018.5,1016.7 L1020.6,1014.3 L1022.7,1014.6 L1024.8,1012.0 L1026.9,1010.1 L1029.0,1009.5 L1031.1,1007.3 L1033.2,1007.5 L1035.3,1003.5 L1037.4,1003.4 L1039.5,1004.2 L1041.6,999.7 L1043.7,1000.9 L1045.8,998.8 L1047.9,994.7 L1050.0,993.0 L1052.1,995.6 L1054.2,992.4 L1056.3,993.2 L1058.4,988.9 L1060.5,986.1 L1062.6,983.7 L1064.7,981.2 L1066.8,981.5 L1068.9,976.4 L1071.0,973.9 L1073.1,969.7 L1075.2,967.5 L1077.3,961.5 L1079.4,955.3 L1081.5,953.3 L1083.6,952.4 L1085.7,947.4 L1087.8,943.5 L1089.9,937.1 L1092.0,930.4 L1094.1,927.5 L1096.2,924.1 L1098.3,921.1 L1100.4,919.9 L1102.5,913.2 L1104.6,913.7 L1106.7,909.9 L1108.8,907.7 L1110.9,900.1 L1113.0,893.3 L1115.1,890.6 L1117.2,887.5 L1119.3,884.6 L1121.4,875.0 L1123.5,875.0 L1125.6,867.0 L1127.7,861.9 L1129.8,852.9 L1131.9,850.6 L1134.0,842.6 L1136.1,837.8 L1138.2,831.8 L1140.3,828.4 L1142.4,827.8 L1144.5,822.1 L1146.6,815.0 L1148.7,811.2 L1150.8,805.5 L1152.9,797.4 L1155.0,786.9 L1157.1,781.0 L1159.2,779.1 L1161.3,768.2 L1163.4,758.1 L1165.5,748.3 L1167.6,743.3 L1169.7,734.8 L1171.8,727.7 L1173.9,718.8 L1176.0,714.0 L1178.1,699.1 L1180.2,684.1 L1182.3,674.7 L1184.4,666.5 L1186.5,663.3 L1188.6,650.9 L1190.7,634.9 L1192.8,625.2 L1194.9,613.6 L1197.0,602.1 L1199.1,594.2 L1201.2,579.2 L1203.3,571.2 L1205.4,550.0 L1207.5,542.0 L1209.6,533.6 L1211.7,521.3 L1213.8,507.1 L1215.9,497.5 L1218.0,486.9 L1220.1,467.9 L1222.2,451.9 L1224.3,445.4 L1226.4,437.4 L1228.5,422.6 L1230.6,409.6 L1232.7,397.3 L1234.8,393.4 L1236.9,388.3 L1239.0,379.7 L1241.1,370.9 L1243.2,358.7 L1245.3,345.9 L1247.4,341.0 L1249.5,341.2 L1251.6,336.8 L1253.7,337.2 L1255.8,327.5 L1257.9,321.2 L1260.0,317.6 L1262.1,306.0 L1264.2,293.7 L1266.3,292.3 L1268.4,298.2 L1270.5,295.0 L1272.6,299.7 L1274.7,298.0 L1276.8,288.3 L1278.9,295.9 L1281.0,288.7 L1283.1,289.0 L1285.2,291.2 L1287.3,286.8 L1289.4,290.3 L1291.5,285.8 L1293.6,292.5 L1295.7,290.0 L1297.8,295.1 L1299.9,296.5 L1302.0,296.7 L1304.1,305.1 L1306.2,308.5 L1308.3,323.9 L1310.4,332.7 L1312.5,350.8 L1314.6,357.8 L1316.7,363.4 L1318.8,363.7 L1320.9,367.2 L1323.0,372.8 L1325.1,382.2 L1327.2,382.4 L1329.3,393.9 L1331.4,407.7 L1333.5,413.9 L1335.6,424.9 L1337.7,433.5 L1339.8,436.7 L1341.9,452.8 L1344.0,455.4 L1346.1,464.6 L1348.2,477.4 L1350.3,488.0 L1352.4,488.6 L1354.5,503.7 L1356.6,510.1 L1358.7,521.9 L1360.8,533.4 L1362.9,542.5 L1365.0,554.2 L1367.1,560.4 L1369.2,567.2 L1371.3,581.0 L1373.4,594.5 L1375.5,604.6 L1377.6,618.5 L1379.7,629.6 L1381.8,637.3 L1383.9,643.7 L1386.0,652.3 L1388.1,662.4 L1390.2,665.6 L1392.3,676.2 L1394.4,683.0 L1396.5,691.1 L1398.6,702.4 L1400.7,712.7 L1402.8,714.2 L1404.9,717.7 L1407.0,727.3 L1409.1,730.8 L1411.2,735.3 L1413.3,743.0 L1415.4,748.9 L1417.5,756.2 L1419.6,762.9 L1421.7,766.0 L1423.8,767.2 L1425.9,772.9 L1428.0,777.6 L1430.1,785.7 L1432.2,788.3 L1434.3,797.6 L1436.4,805.1 L1438.5,806.6 L1440.6,814.2 L1442.7,815.1 L1444.8,817.0 L1446.9,819.2 L1449.0,822.6 L1451.1,825.1 L1453.2,825.7 L1455.3,830.6 L1457.4,831.1 L1459.5,835.5 L1461.6,838.3 L1463.7,838.6 L1465.8,849.0 L1467.9,851.9 L1470.0,858.0 L1472.1,858.5 L1474.2,865.4 L1476.3,865.1 L1478.4,867.8 L1480.5,870.1 L1482.6,876.6 L1484.7,875.0 L1486.8,874.6 L1488.9,879.0 L1491.0,880.7 L1493.1,880.6 L1495.2,879.6 L1497.3,883.4 L1499.4,885.9 L1501.5,886.7 L1503.6,890.6 L1505.7,889.1 L1507.8,894.5 L1509.9,893.8 L1512.0,895.1 L1514.1,894.6 L1516.2,898.9 L1518.3,899.2 L1520.4,897.3 L1522.5,897.8 L1524.6,901.8 L1526.7,903.6 L1528.8,909.3 L1530.9,910.5 L1533.0,912.4 L1535.1,912.4 L1537.2,915.0 L1539.3,914.1 L1541.4,920.1 L1543.5,920.8 L1545.6,922.9 L1547.7,920.5 L1549.8,918.4 L1551.9,921.7 L1554.0,923.1 L1556.1,927.9 L1558.2,928.4 L1560.3,929.0 L1562.4,930.4 L1564.5,934.1 L1566.6,930.3 L1568.7,930.3 L1570.8,933.4 L1572.9,933.1 L1575.0,933.9 L1577.1,934.8 L1579.2,937.8 L1581.3,933.2 L1583.4,934.1 L1585.5,935.3 L1587.6,937.1 L1589.7,939.6 L1591.8,939.5 L1593.9,941.9 L1596.0,938.4 L1598.1,939.6 L1600.2,939.0 L1602.3,940.7 L1604.4,941.5 L1606.5,945.3 L1608.6,943.8 L1610.7,945.4 L1612.8,944.8 L1614.9,944.5 L1617.0,944.7 L1619.1,944.8 L1621.2,948.4 L1623.3,948.7 L1625.4,950.4 L1627.5,953.6 L1629.6,954.6 L1631.7,952.9 L1633.8,956.8 L1635.9,955.8 L1638.0,955.8 L1640.1,958.9 L1642.2,958.3 L1644.3,959.0 L1646.4,961.9 L1648.5,958.0 L1650.6,959.7 L1652.7,963.4 L1654.8,963.3 L1656.9,966.5 L1659.0,968.8 L1661.1,971.7 L1663.2,969.0 L1665.3,969.7 L1667.4,970.9 L1669.5,971.2 L1671.6,972.0 L1673.7,976.3 L1675.8,977.5 L1677.9,978.8 L1680.0,981.0 L1682.1,981.8 L1684.2,982.3 L1686.3,982.7 L1688.4,981.2 L1690.5,982.2 L1692.6,983.4 L1694.7,984.0 L1696.8,985.8 L1698.9,984.6 L1701.0,989.3 L1703.1,989.4" stroke="#808000"/>
<path d="M294.0,1086.7 L296.1,1087.2 L298.2,1086.6 L300.3,1084.8 L302.4,1084.9 L304.5,1084.2 L306.6,1083.4 L308.7,1081.8 L310.8,1080.3 L312.9,1079.9 L315.0,1081.5 L317.1,1081.6 L319.2,1079.8 L321.3,1079.5 L323.4,1077.5 L325.5,1079.4 L327.6,1079.1 L329.7,1078.6 L331.8,1077.8 L333.9,1077.0 L336.0,1077.0 L338.1,1074.7 L340.2,1075.0 L342.3,1073.0 L344.4,1073.1 L346.5,1073.5 L348.6,1070.3 L350.7,1072.6 L352.8,1071.0 L354.9,1070.9 L357.0,1071.0 L359.1,1071.3 L361.2,1073.1 L363.3,1070.6 L365.4,1072.6 L367.5,1072.7 L369.6,1073.7 L371.7,1075.0 L373.8,1074.8 L375.9,1073.3 L378.0,1074.5 L380.1,1075.7 L382.2,1077.1 L384.3,1080.4 L386.4,1079.3 L388.5,1080.1 L390.6,1080.5 L392.7,1079.3 L394.8,1079.1 L396.9,1079.3 L399.0,1079.6 L401.1,1081.3 L403.2,1079.7 L405.3,1082.0 L407.4,1080.8 L409.5,1081.9 L411.6,1080.2 L413.7,1081.7 L415.8,1081.1 L417.9,1079.8 L420.0,1080.0 L422.1,1079.3 L424.2,1078.5 L426.3,1079.8 L428.4,1081.2 L430.5,1078.0 L432.6,1078.2 L434.7,1076.8 L436.8,1078.5 L438.9,1077.4 L441.0,1079.5 L443.1,1080.8 L445.2,1081.0 L447.3,1079.8 L449.4,1078.8 L451.5,1082.5 L453.6,1080.5 L455.7,1081.3 L457.8,1079.7 L459.9,1079.5 L462.0,1080.8 L464.1,1080.5 L466.2,1082.8 L468.3,1080.0 L470.4,1080.4 L472.5,1078.3 L474.6,1078.8 L476.7,1080.6 L478.8,1081.2 L480.9,1081.5 L483.0,1079.6 L485.1,1080.5 L487.2,1080.8 L489.3,1081.2 L491.4,1079.7 L493.5,1080.8 L495.6,1078.8 L497.7,1079.8 L499.8,1079.5 L501.9,1079.7 L504.0,1081.0 L506.1,1079.5 L508.2,1080.8 L510.3,1082.1 L512.4,1080.9 L514.5,1082.4 L516.6,1078.3 L518.7,1077.9 L520.8,1078.7 L522.9,1080.4 L525.0,1081.2 L527.1,1080.4 L529.2,1080.6 L531.3,1080.5 L533.4,1080.1 L535.5,1079.4 L537.6,1080.4 L539.7,1083.5 L541.8,1081.2 L543.9,1083.0 L546.0,1085.8 L548.1,1086.6 L550.2,1087.4 L552.3,1087.6 L554.4,1089.0 L556.5,1089.6 L558.6,1089.2 L560.7,1091.8 L562.8,1091.2 L564.9,1091.7 L567.0,1090.7 L569.1,1087.7 L571.2,1086.0 L573.3,1087.4 L575.4,1090.8 L577.5,1090.5 L579.6,1090.9 L581.7,1092.3 L583.8,1090.4 L585.9,1092.0 L588.0,1091.2 L590.1,1092.1 L592.2,1090.8 L594.3,1091.7 L596.4,1089.5 L598.5,1090.1 L600.6,1088.6 L602.7,1089.9 L604.8,1090.0 L606.9,1091.1 L609.0,1091.0 L611.1,1091.2 L613.2,1091.4 L615.3,1089.7 L617.4,1090.4 L619.5,1090.6 L621.6,1091.8 L623.7,1090.5 L625.8,1092.7 L627.9,1091.5 L630.0,1093.2 L632.1,1092.2 L634.2,1092.1 L636.3,1092.6 L638.4,1094.4 L640.5,1097.1 L642.6,1097.2 L644.7,1097.3 L646.8,1098.2 L648.9,1100.0 L651.0,1098.0 L653.1,1098.1 L655.2,1097.6 L657.3,1098.5 L659.4,1100.4 L661.5,1102.9 L663.6,1102.3 L665.7,1102.4 L667.8,1101.5 L669.9,1102.0 L672.0,1102.5 L674.1,1101.2 L676.2,1100.0 L678.3,1099.4 L680.4,1098.2 L682.5,1095.9 L684.6,1094.7 L686.7,1096.7 L688.8,1096.1 L690.9,1094.0 L693.0,1094.8 L695.1,1093.6 L697.2,1091.8 L699.3,1092.3 L701.4,1089.5 L703.5,1089.0 L705.6,1087.9 L707.7,1087.2 L709.8,1088.2 L711.9,1085.9 L714.0,1085.3 L716.1,1086.1 L718.2,1087.2 L720.3,1087.4 L722.4,1087.3 L724.5,1086.1 L726.6,1085.6 L728.7,1086.2 L730.8,1086.0 L732.9,1085.7 L735.0,1086.1 L737.1,1088.2 L739.2,1084.7 L741.3,1084.9 L743.4,1085.7 L745.5,1085.2 L747.6,1085.2 L749.7,1084.5 L751.8,1085.1 L753.9,1085.5 L756.0,1083.4 L758.1,1083.8 L760.2,1084.2 L762.3,1085.4 L764.4,1084.3 L766.5,1085.2 L768.6,1085.8 L770.7,1085.3 L772.8,1083.7 L774.9,1081.0 L777.0,1082.3 L779.1,1082.4 L781.2,1084.6 L783.3,1082.7 L785.4,1082.8 L787.5,1082.7 L789.6,1083.5 L791.7,1084.7 L793.8,1083.6 L795.9,1083.5 L798.0,1081.9 L800.1,1082.4 L802.2,1082.4 L804.3,1083.6 L806.4,1082.2 L808.5,1083.9 L810.6,1082.8 L812.7,1083.2 L814.8,1082.4 L816.9,1081.7 L819.0,1083.6 L821.1,1083.2 L823.2,1083.8 L825.3,1083.5 L827.4,1082.5 L829.5,1082.0 L831.6,1082.5 L833.7,1081.4 L835.8,1082.4 L837.9,1081.8 L840.0,1081.7 L842.1,1080.5 L844.2,1079.8 L846.3,1080.3 L848.4,1079.6 L850.5,1081.4 L852.6,1079.9 L854.7,1080.5 L856.8,1081.6 L858.9,1081.2 L861.0,1080.2 L863.1,1080.7 L865.2,1080.8 L867.3,1080.9 L869.4,1081.1 L871.5,1079.8 L873.6,1081.3 L875.7,1080.0 L877.8,1079.3 L879.9,1078.3 L882.0,1078.8 L884.1,1079.1 L886.2,1079.8 L888.3,1080.4 L890.4,1079.2 L892.5,1077.4 L894.6,1077.1 L896.7,1076.0 L898.8,1075.7 L900.9,1077.5 L903.0,1077.6 L905.1,1076.9 L907.2,1077.1 L909.3,1076.7 L911.4,1076.3 L913.5,1075.7 L915.6,1075.5 L917.7,1076.3 L919.8,1075.9 L921.9,1077.5 L924.0,1077.8 L926.1,1075.4 L928.2,1075.4 L930.3,1075.0 L932.4,1076.1 L934.5,1076.7 L936.6,1076.4 L938.7,1076.7 L940.8,1075.9 L942.9,1075.5 L945.0,1074.9 L947.1,1075.5 L949.2,1074.0 L951.3,1072.6 L953.4,1073.2 L955.5,1072.9 L957.6,1072.6 L959.7,1074.4 L961.8,1072.0 L963.9,1070.4 L966.0,1071.2 L968.1,1070.0 L970.2,1070.6 L972.3,1069.7 L974.4,1070.0 L976.5,1069.1 L978.6,1068.0 L980.7,1066.7 L982.8,1066.8 L984.9,1067.8 L987.0,1067.8 L989.1,1065.8 L991.2,1065.6 L993.3,1063.9 L995.4,1063.7 L997.5,1065.1 L999.6,1063.6 L1001.7,1061.8 L1003.8,1062.3 L1005.9,1061.9 L1008.0,1060.9 L1010.1,1060.4 L1012.2,1058.2 L1014.3,1058.0 L1016.4,1057.5 L1018.5,1059.3 L1020.6,1058.4 L1022.7,1057.6 L1024.8,1058.5 L1026.9,1056.3 L1029.0,1055.3 L1031.1,1055.4 L1033.2,1054.8 L1035.3,1053.7 L1037.4,1054.2 L1039.5,1054.2 L1041.6,1052.4 L1043.7,1051.5 L1045.8,1048.5 L1047.9,1049.1 L1050.0,1047.1 L1052.1,1048.4 L1054.2,1048.3 L1056.3,1048.1 L1058.4,1045.5 L1060.5,1045.0 L1062.6,1044.3 L1064.7,1042.2 L1066.8,1043.9 L1068.9,1042.1 L1071.0,1040.6 L1073.1,1041.4 L1075.2,1042.0 L1077.3,1043.1 L1079.4,1041.6 L1081.5,1039.1 L1083.6,1036.8 L1085.7,1037.4 L1087.8,1037.9 L1089.9,1037.4 L1092.0,1036.7 L1094.1,1035.7 L1096.2,1036.1 L1098.3,1033.5 L1100.4,1030.0 L1102.5,1027.8 L1104.6,1029.1 L1106.7,1026.2 L1108.8,1026.4 L1110.9,1026.8 L1113.0,1021.1 L1115.1,1021.0 L1117.2,1018.9 L1119.3,1018.7 L1121.4,1017.0 L1123.5,1015.3 L1125.6,1013.6 L1127.7,1010.4 L1129.8,1009.9 L1131.9,1004.9 L1134.0,1003.2 L1136.1,1005.6 L1138.2,1000.9 L1140.3,1000.2 L1142.4,997.8 L1144.5,996.9 L1146.6,994.5 L1148.7,997.8 L1150.8,991.3 L1152.9,989.7 L1155.0,985.7 L1157.1,984.0 L1159.2,981.7 L1161.3,980.5 L1163.4,978.8 L1165.5,973.7 L1167.6,971.2 L1169.7,966.0 L1171.8,965.3 L1173.9,961.0 L1176.0,961.2 L1178.1,958.0 L1180.2,955.4 L1182.3,951.5 L1184.4,947.2 L1186.5,943.6 L1188.6,943.1 L1190.7,937.6 L1192.8,935.4 L1194.9,934.3 L1197.0,929.3 L1199.1,928.0 L1201.2,926.2 L1203.3,921.0 L1205.4,915.2 L1207.5,910.2 L1209.6,906.7 L1211.7,898.5 L1213.8,895.7 L1215.9,888.7 L1218.0,882.4 L1220.1,877.8 L1222.2,872.0 L1224.3,866.8 L1226.4,865.9 L1228.5,857.5 L1230.6,857.6 L1232.7,853.2 L1234.8,844.9 L1236.9,839.5 L1239.0,830.9 L1241.1,820.7 L1243.2,811.5 L1245.3,806.5 L1247.4,797.1 L1249.5,784.0 L1251.6,773.3 L1253.7,765.2 L1255.8,753.1 L1257.9,745.4 L1260.0,740.9 L1262.1,731.2 L1264.2,717.4 L1266.3,708.9 L1268.4,691.3 L1270.5,682.0 L1272.6,669.4 L1274.7,663.7 L1276.8,647.3 L1278.9,638.0 L1281.0,622.5 L1283.1,610.2 L1285.2,596.1 L1287.3,594.8 L1289.4,577.5 L1291.5,567.4 L1293.6,550.1 L1295.7,542.9 L1297.8,527.5 L1299.9,507.8 L1302.0,499.7 L1304.1,491.8 L1306.2,483.6 L1308.3,467.3 L1310.4,459.5 L1312.5,442.2 L1314.6,435.0 L1316.7,428.4 L1318.8,416.0 L1320.9,407.5 L1323.0,406.8 L1325.1,395.6 L1327.2,382.7 L1329.3,375.7 L1331.4,360.8 L1333.5,357.9 L1335.6,357.2 L1337.7,351.3 L1339.8,340.4 L1341.9,340.7 L1344.0,336.7 L1346.1,321.0 L1348.2,318.1 L1350.3,302.8 L1352.4,302.4 L1354.5,310.5 L1356.6,309.9 L1358.7,311.3 L1360.8,303.4 L1362.9,305.4 L1365.0,306.8 L1367.1,317.9 L1369.2,309.4 L1371.3,308.6 L1373.4,324.7 L1375.5,322.7 L1377.6,325.8 L1379.7,324.3 L1381.8,334.0 L1383.9,332.6 L1386.0,340.2 L1388.1,341.0 L1390.2,351.2 L1392.3,367.1 L1394.4,383.5 L1396.5,394.8 L1398.6,392.3 L1400.7,408.8 L1402.8,407.2 L1404.9,417.0 L1407.0,425.0 L1409.1,428.5 L1411.2,442.3 L1413.3,450.2 L1415.4,453.4 L1417.5,469.2 L1419.6,475.5 L1421.7,487.0 L1423.8,492.1 L1425.9,497.9 L1428.0,510.3 L1430.1,524.1 L1432.2,532.1 L1434.3,545.3 L1436.4,544.9 L1438.5,555.0 L1440.6,562.3 L1442.7,580.2 L1444.8,585.7 L1446.9,598.3 L1449.0,610.3 L1451.1,630.0 L1453.2,636.0 L1455.3,645.8 L1457.4,650.8 L1459.5,665.1 L1461.6,670.9 L1463.7,677.4 L1465.8,688.9 L1467.9,694.2 L1470.0,701.8 L1472.1,713.1 L1474.2,721.5 L1476.3,727.8 L1478.4,736.1 L1480.5,741.5 L1482.6,752.3 L1484.7,760.8 L1486.8,765.7 L1488.9,778.2 L1491.0,780.1 L1493.1,792.0 L1495.2,802.3 L1497.3,800.8 L1499.4,803.6 L1501.5,813.0 L1503.6,817.9 L1505.7,820.8 L1507.8,830.2 L1509.9,833.6 L1512.0,837.2 L1514.1,845.6 L1516.2,848.1 L1518.3,851.3 L1520.4,856.2 L1522.5,860.4 L1524.6,866.4 L1526.7,868.6 L1528.8,871.6 L1530.9,871.3 L1533.0,873.2 L1535.1,876.1 L1537.2,881.7 L1539.3,889.2 L1541.4,891.4 L1543.5,892.3 L1545.6,899.1 L1547.7,899.8 L1549.8,906.1 L1551.9,907.9 L1554.0,914.3 L1556.1,915.6 L1558.2,913.8 L1560.3,915.8 L1562.4,915.8 L1564.5,919.9 L1566.6,922.4 L1568.7,926.4 L1570.8,924.4 L1572.9,923.5 L1575.0,922.0 L1577.1,929.4 L1579.2,928.8 L1581.3,931.1 L1583.4,933.9 L1585.5,933.9 L1587.6,940.5 L1589.7,940.6 L1591.8,939.6 L1593.9,942.2 L1596.0,943.0 L1598.1,944.3 L1600.2,947.2 L1602.3,948.4 L1604.4,948.3 L1606.5,949.8 L1608.6,950.2 L1610.7,953.4 L1612.8,952.8 L1614.9,956.7 L1617.0,960.8 L1619.1,959.8 L1621.2,958.6 L1623.3,958.6 L1625.4,962.2 L1627.5,962.4 L1629.6,960.3 L1631.7,963.6 L1633.8,965.2 L1635.9,965.3 L1638.0,962.6 L1640.1,965.3 L1642.2,966.7 L1644.3,968.7 L1646.4,966.5 L1648.5,964.9 L1650.6,966.3 L1652.7,970.1 L1654.8,971.0 L1656.9,970.9 L1659.0,972.8 L1661.1,970.4 L1663.2,968.9 L1665.3,969.3 L1667.4,970.9 L1669.5,973.5 L1671.6,974.4 L1673.7,976.3 L1675.8,978.6 L1677.9,977.3 L1680.0,976.1 L1682.1,977.5 L1684.2,973.7 L1686.3,973.9 L1688.4,978.1 L1690.5,980.5 L1692.6,984.3 L1694.7,983.3 L1696.8,981.9 L1698.9,981.2 L1701.0,984.0 L1703.1,983.5" stroke="#ff8000"/>
<path d="M294.0,1119.7 L296.1,1117.8 L298.2,1119.7 L300.3,1117.7 L302.4,1116.4 L304.5,1115.8 L306.6,1118.5 L308.7,1117.8 L310.8,1119.4 L312.9,1116.9 L315.0,1117.1 L317.1,1116.7 L319.2,1114.4 L321.3,1115.2 L323.4,1115.6 L325.5,1118.3 L327.6,1118.1 L329.7,1116.2 L331.8,1116.2 L333.9,1116.5 L336.0,1116.2 L338.1,1117.5 L340.2,1115.9 L342.3,1117.0 L344.4,1114.3 L346.5,1112.8 L348.6,1115.9 L350.7,1115.5 L352.8,1116.4 L354.9,1115.6 L357.0,1115.0 L359.1,1116.8 L361.2,1114.9 L363.3,1117.2 L365.4,1114.8 L367.5,1115.8 L369.6,1116.4 L371.7,1116.4 L373.8,1115.6 L375.9,1115.1 L378.0,1116.0 L380.1,1114.1 L382.2,1113.7 L384.3,1114.2 L386.4,1114.8 L388.5,1115.9 L390.6,1115.5 L392.7,1115.6 L394.8,1117.2 L396.9,1115.2 L399.0,1115.1 L401.1,1113.8 L403.2,1113.1 L405.3,1114.4 L407.4,1113.5 L409.5,1116.1 L411.6,1116.0 L413.7,1115.3 L415.8,1114.0 L417.9,1114.6 L420.0,1114.2 L422.1,1115.1 L424.2,1115.0 L426.3,1114.9 L428.4,1112.5 L430.5,1112.8 L432.6,1110.9 L434.7,1110.7 L436.8,1111.7 L438.9,1110.2 L441.0,1112.5 L443.1,1110.5 L445.2,1111.8 L447.3,1111.8 L449.4,1112.3 L451.5,1112.1 L453.6,1111.4 L455.7,1110.3 L457.8,1112.2 L459.9,1109.3 L462.0,1108.8 L464.1,1107.6 L466.2,1107.8 L468.3,1107.1 L470.4,1107.8 L472.5,1106.2 L474.6,1108.3 L476.7,1108.0 L478.8,1107.3 L480.9,1106.7 L483.0,1105.9 L485.1,1105.5 L487.2,1107.6 L489.3,1104.6 L491.4,1105.6 L493.5,1105.9 L495.6,1105.6 L497.7,1105.8 L499.8,1103.7 L501.9,1105.2 L504.0,1105.4 L506.1,1103.2 L508.2,1103.6 L510.3,1105.4 L512.4,1105.5 L514.5,1105.3 L516.6,1103.3 L518.7,1104.2 L520.8,1103.5 L522.9,1101.6 L525.0,1101.6 L527.1,1102.4 L529.2,1101.8 L531.3,1100.1 L533.4,1101.7 L535.5,1100.5 L537.6,1100.6 L539.7,1099.4 L541.8,1099.1 L543.9,1096.8 L546.0,1095.3 L548.1,1096.0 L550.2,1096.8 L552.3,1095.9 L554.4,1095.9 L556.5,1094.3 L558.6,1090.8 L560.7,1090.7 L562.8,1090.3 L564.9,1088.7 L567.0,1087.6 L569.1,1086.6 L571.2,1085.1 L573.3,1082.8 L575.4,1084.7 L577.5,1083.0 L579.6,1082.0 L581.7,1080.4 L583.8,1079.9 L585.9,1078.5 L588.0,1078.4 L590.1,1078.2 L592.2,1077.0 L594.3,1076.3 L596.4,1073.9 L598.5,1072.8 L600.6,1074.4 L602.7,1073.2 L604.8,1071.3 L606.9,1068.9 L609.0,1066.1 L611.1,1065.5 L613.2,1065.1 L615.3,1062.8 L617.4,1064.3 L619.5,1062.4 L621.6,1060.5 L623.7,1055.9 L625.8,1054.8 L627.9,1050.8 L630.0,1052.5 L632.1,1050.0 L634.2,1046.5 L636.3,1047.8 L638.4,1046.3 L640.5,1042.7 L642.6,1044.1 L644.7,1040.1 L646.8,1040.0 L648.9,1037.4 L651.0,1031.5 L653.1,1033.0 L655.2,1027.8 L657.3,1024.8 L659.4,1019.8 L661.5,1019.1 L663.6,1016.6 L665.7,1012.9 L667.8,1010.6 L669.9,1006.1 L672.0,1007.7 L674.1,1002.7 L676.2,1000.3 L678.3,998.7 L680.4,994.7 L682.5,992.1 L684.6,987.6 L686.7,982.7 L688.8,978.4 L690.9,973.9 L693.0,970.5 L695.1,965.3 L697.2,958.9 L699.3,951.6 L701.4,951.7 L703.5,943.7 L705.6,939.2 L707.7,933.8 L709.8,928.0 L711.9,918.8 L714.0,911.4 L716.1,905.3 L718.2,898.6 L720.3,891.7 L722.4,884.8 L724.5,879.5 L726.6,868.1 L728.7,860.7 L730.8,845.3 L732.9,837.7 L735.0,827.1 L737.1,813.8 L739.2,799.9 L741.3,791.1 L743.4,776.0 L745.5,767.8 L747.6,749.9 L749.7,741.2 L751.8,727.0 L753.9,714.1 L756.0,703.6 L758.1,690.5 L760.2,678.9 L762.3,661.5 L764.4,646.0 L766.5,636.1 L768.6,625.9 L770.7,611.4 L772.8,602.0 L774.9,589.9 L777.0,580.5 L779.1,564.0 L781.2,546.4 L783.3,528.2 L785.4,513.7 L787.5,505.1 L789.6,484.1 L791.7,475.8 L793.8,461.2 L795.9,456.1 L798.0,442.2 L800.1,423.8 L802.2,406.8 L804.3,402.1 L806.4,385.4 L808.5,381.3 L810.6,365.8 L812.7,356.9 L814.8,346.5 L816.9,331.6 L819.0,315.1 L821.1,299.7 L823.2,294.1 L825.3,293.1 L827.4,279.7 L829.5,277.6 L831.6,273.2 L833.7,271.7 L835.8,268.9 L837.9,266.0 L840.0,261.1 L842.1,261.6 L844.2,257.1 L846.3,270.8 L848.4,281.4 L850.5,276.3 L852.6,277.4 L854.7,270.2 L856.8,280.5 L858.9,267.7 L861.0,274.7 L863.1,270.8 L865.2,266.5 L867.3,270.9 L869.4,267.9 L871.5,271.7 L873.6,280.5 L875.7,286.8 L877.8,292.9 L879.9,301.0 L882.0,304.4 L884.1,313.7 L886.2,321.2 L888.3,329.0 L890.4,348.2 L892.5,360.1 L894.6,367.8 L896.7,379.1 L898.8,372.7 L900.9,388.8 L903.0,391.6 L905.1,407.1 L907.2,416.2 L909.3,415.2 L911.4,423.6 L913.5,440.2 L915.6,449.6 L917.7,457.0 L919.8,463.7 L921.9,483.1 L924.0,491.8 L926.1,503.2 L928.2,523.5 L930.3,523.9 L932.4,527.4 L934.5,537.1 L936.6,540.9 L938.7,546.3 L940.8,553.2 L942.9,554.3 L945.0,566.8 L947.1,567.5 L949.2,570.5 L951.3,580.5 L953.4,599.1 L955.5,601.6 L957.6,606.9 L959.7,611.4 L961.8,618.3 L963.9,620.3 L966.0,631.8 L968.1,635.7 L970.2,641.5 L972.3,649.8 L974.4,655.6 L976.5,661.7 L978.6,667.1 L980.7,665.5 L982.8,676.8 L984.9,682.3 L987.0,683.3 L989.1,689.6 L991.2,692.8 L993.3,693.4 L995.4,701.0 L997.5,702.9 L999.6,708.5 L1001.7,714.4 L1003.8,720.4 L1005.9,720.8 L1008.0,719.6 L1010.1,724.4 L1012.2,727.8 L1014.3,727.4 L1016.4,731.9 L1018.5,737.5 L1020.6,739.6 L1022.7,745.6 L1024.8,748.8 L1026.9,756.9 L1029.0,759.9 L1031.1,763.6 L1033.2,767.0 L1035.3,771.0 L1037.4,771.0 L1039.5,777.8 L1041.6,781.2 L1043.7,786.0 L1045.8,788.3 L1047.9,791.6 L1050.0,793.7 L1052.1,792.6 L1054.2,799.3 L1056.3,801.2 L1058.4,806.2 L1060.5,808.8 L1062.6,811.6 L1064.7,810.0 L1066.8,814.2 L1068.9,815.7 L1071.0,818.7 L1073.1,820.9 L1075.2,829.5 L1077.3,825.2 L1079.4,831.0 L1081.5,833.0 L1083.6,833.9 L1085.7,841.1 L1087.8,844.7 L1089.9,843.6 L1092.0,847.6 L1094.1,850.1 L1096.2,852.1 L1098.3,857.2 L1100.4,858.2 L1102.5,858.8 L1104.6,862.2 L1106.7,869.9 L1108.8,869.0 L1110.9,871.5 L1113.0,872.4 L1115.1,876.6 L1117.2,878.7 L1119.3,880.5 L1121.4,881.6 L1123.5,882.7 L1125.6,885.0 L1127.7,888.7 L1129.8,894.6 L1131.9,897.2 L1134.0,898.8 L1136.1,898.5 L1138.2,898.7 L1140.3,899.0 L1142.4,902.1 L1144.5,901.0 L1146.6,906.2 L1148.7,909.3 L1150.8,908.6 L1152.9,909.7 L1155.0,909.7 L1157.1,910.2 L1159.2,914.1 L1161.3,915.3 L1163.4,918.4 L1165.5,920.5 L1167.6,918.6 L1169.7,922.1 L1171.8,924.2 L1173.9,927.3 L1176.0,927.7 L1178.1,933.1 L1180.2,935.4 L1182.3,936.8 L1184.4,936.3 L1186.5,939.2 L1188.6,938.4 L1190.7,941.2 L1192.8,941.3 L1194.9,944.4 L1197.0,947.0 L1199.1,947.5 L1201.2,947.9 L1203.3,947.4 L1205.4,952.5 L1207.5,952.4 L1209.6,954.4 L1211.7,959.5 L1213.8,957.6 L1215.9,959.3 L1218.0,958.0 L1220.1,962.5 L1222.2,962.4 L1224.3,964.8 L1226.4,965.5 L1228.5,968.3 L1230.6,970.7 L1232.7,965.7 L1234.8,969.0 L1236.9,968.2 L1239.0,971.6 L1241.1,971.6 L1243.2,976.9 L1245.3,977.2 L1247.4,980.0 L1249.5,981.8 L1251.6,981.4 L1253.7,983.7 L1255.8,984.5 L1257.9,989.5 L1260.0,992.8 L1262.1,995.5 L1264.2,995.4 L1266.3,997.8 L1268.4,1001.2 L1270.5,1001.2 L1272.6,998.6 L1274.7,999.6 L1276.8,1001.5 L1278.9,1004.1 L1281.0,1005.3 L1283.1,1004.6 L1285.2,1007.1 L1287.3,1005.9 L1289.4,1006.9 L1291.5,1008.6 L1293.6,1008.9 L1295.7,1011.5 L1297.8,1011.3 L1299.9,1013.4 L1302.0,1010.9 L1304.1,1012.8 L1306.2,1014.1 L1308.3,1015.4 L1310.4,1015.7 L1312.5,1015.1 L1314.6,1018.6 L1316.7,1019.2 L1318.8,1019.4 L1320.9,1021.9 L1323.0,1023.2 L1325.1,1023.0 L1327.2,1024.0 L1329.3,1023.9 L1331.4,1027.6 L1333.5,1025.0 L1335.6,1027.5 L1337.7,1027.8 L1339.8,1031.9 L1341.9,1031.1 L1344.0,1032.2 L1346.1,1031.7 L1348.2,1033.1 L1350.3,1033.1 L1352.4,1032.2 L1354.5,1034.9 L1356.6,1038.1 L1358.7,1038.9 L1360.8,1042.2 L1362.9,1043.1 L1365.0,1043.8 L1367.1,1043.2 L1369.2,1043.0 L1371.3,1044.0 L1373.4,1042.7 L1375.5,1044.1 L1377.6,1045.4 L1379.7,1047.6 L1381.8,1049.0 L1383.9,1051.5 L1386.0,1052.5 L1388.1,1052.3 L1390.2,1051.9 L1392.3,1049.8 L1394.4,1051.0 L1396.5,1051.8 L1398.6,1051.0 L1400.7,1055.0 L1402.8,1054.3 L1404.9,1057.0 L1407.0,1056.2 L1409.1,1057.2 L1411.2,1056.7 L1413.3,1056.7 L1415.4,1058.9 L1417.5,1058.8 L1419.6,1057.9 L1421.7,1058.7 L1423.8,1060.7 L1425.9,1061.8 L1428.0,1060.2 L1430.1,1058.7 L1432.2,1059.7 L1434.3,1059.5 L1436.4,1060.2 L1438.5,1060.0 L1440.6,1062.1 L1442.7,1064.5 L1444.8,1063.8 L1446.9,1064.2 L1449.0,1062.9 L1451.1,1061.0 L1453.2,1063.9 L1455.3,1066.1 L1457.4,1066.7 L1459.5,1066.8 L1461.6,1069.0 L1463.7,1070.7 L1465.8,1069.4 L1467.9,1069.6 L1470.0,1072.8 L1472.1,1072.7 L1474.2,1071.9 L1476.3,1073.4 L1478.4,1073.2 L1480.5,1075.8 L1482.6,1075.9 L1484.7,1078.0 L1486.8,1078.0 L1488.9,1077.8 L1491.0,1078.7 L1493.1,1080.3 L1495.2,1081.4 L1497.3,1082.0 L1499.4,1081.1 L1501.5,1079.8 L1503.6,1080.2 L1505.7,1080.8 L1507.8,1081.0 L1509.9,1079.5 L1512.0,1082.5 L1514.1,1082.1 L1516.2,1082.7 L1518.3,1083.9 L1520.4,1083.9 L1522.5,1082.6 L1524.6,1084.2 L1526.7,1084.5 L1528.8,1085.5 L1530.9,1086.7 L1533.0,1086.6 L1535.1,1085.2 L1537.2,1087.1 L1539.3,1085.3 L1541.4,1087.6 L1543.5,1088.1 L1545.6,1087.3 L1547.7,1090.3 L1549.8,1090.1 L1551.9,1090.3 L1554.0,1088.3 L1556.1,1090.6 L1558.2,1091.3 L1560.3,1090.1 L1562.4,1091.9 L1564.5,1092.2 L1566.6,1092.8 L1568.7,1094.0 L1570.8,1094.4 L1572.9,1096.0 L1575.0,1095.3 L1577.1,1095.0 L1579.2,1098.0 L1581.3,1095.1 L1583.4,1096.6 L1585.5,1094.4 L1587.6,1096.6 L1589.7,1096.7 L1591.8,1100.8 L1593.9,1100.8 L1596.0,1103.1 L1598.1,1101.6 L1600.2,1102.5 L1602.3,1100.5 L1604.4,1102.5 L1606.5,1102.7 L1608.6,1102.7 L1610.7,1101.9 L1612.8,1102.0 L1614.9,1100.4 L1617.0,1100.8 L1619.1,1103.7 L1621.2,1102.4 L1623.3,1104.5 L1625.4,1103.2 L1627.5,1104.4 L1629.6,1105.2 L1631.7,1105.8 L1633.8,1105.9 L1635.9,1104.9 L1638.0,1104.7 L1640.1,1106.0 L1642.2,1106.2 L1644.3,1107.4 L1646.4,1106.5 L1648.5,1106.8 L1650.6,1106.2 L1652.7,1108.1 L1654.8,1108.5 L1656.9,1107.1 L1659.0,1108.7 L1661.1,1111.3 L1663.2,1109.9 L1665.3,1110.7 L1667.4,1108.8 L1669.5,1109.3 L1671.6,1110.2 L1673.7,1109.3 L1675.8,1110.4 L1677.9,1109.2 L1680.0,1111.1 L1682.1,1109.4 L1684.2,1110.3 L1686.3,1110.3 L1688.4,1112.4 L1690.5,1113.6 L1692.6,1113.3 L1694.7,1113.3 L1696.8,1112.7 L1698.9,1113.3 L1701.0,1114.3 L1703.1,1112.7" stroke="#000080"/>
<path d="M294.0,1105.7 L296.1,1105.0 L298.2,1104.5 L300.3,1105.3 L302.4,1104.2 L304.5,1104.6 L306.6,1103.0 L308.7,1102.9 L310.8,1099.4 L312.9,1102.6 L315.0,1100.4 L317.1,1099.4 L319.2,1099.5 L321.3,1099.7 L323.4,1098.6 L325.5,1096.9 L327.6,1097.4 L329.7,1098.5 L331.8,1095.6 L333.9,1096.8 L336.0,1095.7 L338.1,1098.1 L340.2,1096.6 L342.3,1098.9 L344.4,1097.0 L346.5,1098.5 L348.6,1099.5 L350.7,1099.9 L352.8,1096.5 L354.9,1099.3 L357.0,1099.3 L359.1,1099.6 L361.2,1099.3 L363.3,1100.0 L365.4,1099.1 L367.5,1100.3 L369.6,1100.2 L371.7,1100.5 L373.8,1099.7 L375.9,1100.3 L378.0,1099.4 L380.1,1100.8 L382.2,1100.4 L384.3,1100.7 L386.4,1101.3 L388.5,1102.2 L390.6,1101.4 L392.7,1099.8 L394.8,1101.3 L396.9,1099.9 L399.0,1099.3 L401.1,1099.1 L403.2,1098.9 L405.3,1098.5 L407.4,1096.3 L409.5,1094.7 L411.6,1094.7 L413.7,1095.1 L415.8,1095.8 L417.9,1096.5 L420.0,1093.5 L422.1,1093.5 L424.2,1091.9 L426.3,1092.5 L428.4,1092.3 L430.5,1092.7 L432.6,1090.5 L434.7,1092.0 L436.8,1094.8 L438.9,1094.7 L441.0,1095.4 L443.1,1093.1 L445.2,1093.0 L447.3,1093.2 L449.4,1093.3 L451.5,1092.9 L453.6,1094.0 L455.7,1095.2 L457.8,1094.9 L459.9,1097.5 L462.0,1097.3 L464.1,1094.5 L466.2,1095.4 L468.3,1096.1 L470.4,1097.8 L472.5,1097.2 L474.6,1095.8 L476.7,1095.6 L478.8,1098.1 L480.9,1096.6 L483.0,1096.9 L485.1,1096.6 L487.2,1097.4 L489.3,1096.1 L491.4,1098.1 L493.5,1097.0 L495.6,1098.7 L497.7,1098.7 L499.8,1097.9 L501.9,1098.9 L504.0,1098.6 L506.1,1098.1 L508.2,1097.4 L510.3,1096.6 L512.4,1096.7 L514.5,1099.6 L516.6,1100.7 L518.7,1099.5 L520.8,1098.5 L522.9,1100.3 L525.0,1100.4 L527.1,1099.7 L529.2,1099.0 L531.3,1099.1 L533.4,1099.2 L535.5,1097.9 L537.6,1099.4 L539.7,1098.5 L541.8,1098.4 L543.9,1097.4 L546.0,1096.8 L548.1,1096.9 L550.2,1098.3 L552.3,1098.4 L554.4,1097.7 L556.5,1097.9 L558.6,1097.6 L560.7,1099.1 L562.8,1098.1 L564.9,1096.8 L567.0,1097.1 L569.1,1097.1 L571.2,1095.7 L573.3,1097.3 L575.4,1097.8 L577.5,1097.9 L579.6,1096.9 L581.7,1095.4 L583.8,1097.4 L585.9,1098.0 L588.0,1098.3 L590.1,1097.6 L592.2,1097.8 L594.3,1097.0 L596.4,1096.8 L598.5,1097.5 L600.6,1096.2 L602.7,1096.5 L604.8,1095.5 L606.9,1096.0 L609.0,1096.2 L611.1,1096.2 L613.2,1096.8 L615.3,1096.0 L617.4,1095.4 L619.5,1096.4 L621.6,1096.0 L623.7,1098.0 L625.8,1096.6 L627.9,1096.5 L630.0,1095.7 L632.1,1095.6 L634.2,1096.5 L636.3,1096.2 L638.4,1096.8 L640.5,1097.8 L642.6,1099.8 L644.7,1098.3 L646.8,1097.7 L648.9,1096.3 L651.0,1098.0 L653.1,1099.0 L655.2,1098.8 L657.3,1098.2 L659.4,1096.5 L661.5,1096.8 L663.6,1097.4 L665.7,1096.8 L667.8,1094.6 L669.9,1094.3 L672.0,1096.1 L674.1,1097.4 L676.2,1095.0 L678.3,1095.5 L680.4,1095.1 L682.5,1095.9 L684.6,1096.5 L686.7,1095.5 L688.8,1096.3 L690.9,1094.2 L693.0,1094.9 L695.1,1095.0 L697.2,1096.1 L699.3,1094.3 L701.4,1093.0 L703.5,1095.5 L705.6,1094.9 L707.7,1096.0 L709.8,1092.2 L711.9,1092.8 L714.0,1095.1 L716.1,1096.0 L718.2,1096.4 L720.3,1096.6 L722.4,1095.9 L724.5,1096.0 L726.6,1096.9 L728.7,1099.2 L730.8,1099.7 L732.9,1098.9 L735.0,1099.5 L737.1,1101.7 L739.2,1102.6 L741.3,1102.3 L743.4,1100.2 L745.5,1102.2 L747.6,1100.4 L749.7,1100.8 L751.8,1099.5 L753.9,1098.1 L756.0,1097.2 L758.1,1096.9 L760.2,1098.4 L762.3,1096.9 L764.4,1097.9 L766.5,1095.9 L768.6,1095.7 L770.7,1096.7 L772.8,1095.7 L774.9,1095.3 L777.0,1094.0 L779.1,1094.3 L781.2,1094.3 L783.3,1094.1 L785.4,1095.1 L787.5,1095.7 L789.6,1095.2 L791.7,1094.5 L793.8,1094.0 L795.9,1094.0 L798.0,1094.4 L800.1,1095.2 L802.2,1093.7 L804.3,1092.4 L806.4,1092.6 L808.5,1091.2 L810.6,1091.6 L812.7,1092.0 L814.8,1090.6 L816.9,1092.5 L819.0,1092.1 L821.1,1091.3 L823.2,1090.6 L825.3,1090.0 L827.4,1091.4 L829.5,1090.7 L831.6,1091.4 L833.7,1090.6 L835.8,1091.8 L837.9,1090.9 L840.0,1090.0 L842.1,1088.3 L844.2,1090.1 L846.3,1089.3 L848.4,1089.9 L850.5,1090.9 L852.6,1091.9 L854.7,1092.9 L856.8,1091.2 L858.9,1092.2 L861.0,1091.5 L863.1,1088.4 L865.2,1088.8 L867.3,1086.5 L869.4,1089.0 L871.5,1087.5 L873.6,1085.3 L875.7,1088.1 L877.8,1087.5 L879.9,1087.9 L882.0,1087.2 L884.1,1085.8 L886.2,1085.9 L888.3,1086.0 L890.4,1086.9 L892.5,1085.9 L894.6,1084.2 L896.7,1083.6 L898.8,1085.4 L900.9,1085.2 L903.0,1086.7 L905.1,1085.3 L907.2,1083.3 L909.3,1084.9 L911.4,1084.0 L913.5,1083.4 L915.6,1082.8 L917.7,1082.6 L919.8,1082.9 L921.9,1085.6 L924.0,1085.9 L926.1,1084.6 L928.2,1082.9 L930.3,1084.3 L932.4,1083.2 L934.5,1083.9 L936.6,1083.9 L938.7,1082.9 L940.8,1082.8 L942.9,1082.5 L945.0,1084.9 L947.1,1084.9 L949.2,1083.0 L951.3,1084.6 L953.4,1082.5 L955.5,1083.6 L957.6,1081.0 L959.7,1080.3 L961.8,1079.9 L963.9,1080.8 L966.0,1080.5 L968.1,1078.8 L970.2,1079.0 L972.3,1077.1 L974.4,1079.2 L976.5,1079.4 L978.6,1077.9 L980.7,1079.2 L982.8,1078.4 L984.9,1077.8 L987.0,1077.7 L989.1,1077.7 L991.2,1079.0 L993.3,1077.5 L995.4,1078.6 L997.5,1078.1 L999.6,1078.6 L1001.7,1077.9 L1003.8,1077.4 L1005.9,1076.1 L1008.0,1076.7 L1010.1,1076.8 L1012.2,1076.2 L1014.3,1075.4 L1016.4,1074.6 L1018.5,1074.9 L1020.6,1074.6 L1022.7,1071.6 L1024.8,1073.6 L1026.9,1074.7 L1029.0,1073.9 L1031.1,1074.7 L1033.2,1074.3 L1035.3,1073.1 L1037.4,1074.6 L1039.5,1074.8 L1041.6,1072.6 L1043.7,1070.9 L1045.8,1067.3 L1047.9,1070.0 L1050.0,1070.7 L1052.1,1070.8 L1054.2,1070.3 L1056.3,1067.7 L1058.4,1068.6 L1060.5,1067.0 L1062.6,1069.0 L1064.7,1067.2 L1066.8,1070.6 L1068.9,1069.8 L1071.0,1068.5 L1073.1,1066.5 L1075.2,1067.5 L1077.3,1069.6 L1079.4,1067.8 L1081.5,1067.6 L1083.6,1066.1 L1085.7,1067.0 L1087.8,1066.3 L1089.9,1065.9 L1092.0,1062.5 L1094.1,1061.3 L1096.2,1059.6 L1098.3,1061.6 L1100.4,1060.7 L1102.5,1061.7 L1104.6,1057.6 L1106.7,1060.9 L1108.8,1060.2 L1110.9,1060.0 L1113.0,1056.8 L1115.1,1055.4 L1117.2,1055.2 L1119.3,1053.1 L1121.4,1055.4 L1123.5,1056.8 L1125.6,1056.6 L1127.7,1052.7 L1129.8,1052.7 L1131.9,1052.8 L1134.0,1051.2 L1136.1,1050.0 L1138.2,1048.8 L1140.3,1052.0 L1142.4,1052.8 L1144.5,1052.4 L1146.6,1050.1 L1148.7,1047.8 L1150.8,1048.6 L1152.9,1046.1 L1155.0,1048.1 L1157.1,1045.7 L1159.2,1044.7 L1161.3,1043.1 L1163.4,1041.3 L1165.5,1041.5 L1167.6,1040.7 L1169.7,1039.2 L1171.8,1039.0 L1173.9,1035.2 L1176.0,1035.3 L1178.1,1033.2 L1180.2,1030.2 L1182.3,1031.2 L1184.4,1028.9 L1186.5,1029.4 L1188.6,1026.1 L1190.7,1023.3 L1192.8,1023.9 L1194.9,1021.4 L1197.0,1021.1 L1199.1,1020.5 L1201.2,1016.3 L1203.3,1015.2 L1205.4,1015.0 L1207.5,1011.3 L1209.6,1009.5 L1211.7,1007.4 L1213.8,1006.6 L1215.9,1005.4 L1218.0,1004.0 L1220.1,1003.9 L1222.2,1000.2 L1224.3,997.3 L1226.4,994.4 L1228.5,995.5 L1230.6,988.5 L1232.7,987.4 L1234.8,985.0 L1236.9,984.1 L1239.0,979.1 L1241.1,976.4 L1243.2,969.7 L1245.3,968.6 L1247.4,966.7 L1249.5,963.0 L1251.6,958.1 L1253.7,956.2 L1255.8,949.2 L1257.9,943.2 L1260.0,938.0 L1262.1,934.7 L1264.2,931.8 L1266.3,930.9 L1268.4,926.0 L1270.5,919.1 L1272.6,913.8 L1274.7,905.4 L1276.8,904.3 L1278.9,900.6 L1281.0,893.4 L1283.1,890.6 L1285.2,883.6 L1287.3,882.3 L1289.4,873.1 L1291.5,866.8 L1293.6,864.3 L1295.7,857.2 L1297.8,849.7 L1299.9,842.7 L1302.0,835.6 L1304.1,825.1 L1306.2,817.8 L1308.3,813.1 L1310.4,808.9 L1312.5,797.6 L1314.6,791.2 L1316.7,782.3 L1318.8,769.5 L1320.9,757.8 L1323.0,751.2 L1325.1,736.6 L1327.2,728.1 L1329.3,720.2 L1331.4,701.1 L1333.5,696.3 L1335.6,686.4 L1337.7,676.0 L1339.8,662.6 L1341.9,649.9 L1344.0,637.2 L1346.1,629.0 L1348.2,620.8 L1350.3,603.3 L1352.4,593.4 L1354.5,582.5 L1356.6,574.1 L1358.7,562.6 L1360.8,552.8 L1362.9,540.5 L1365.0,521.3 L1367.1,502.3 L1369.2,496.9 L1371.3,488.5 L1373.4,470.7 L1375.5,461.3 L1377.6,451.6 L1379.7,440.0 L1381.8,427.2 L1383.9,419.4 L1386.0,402.6 L1388.1,394.4 L1390.2,383.7 L1392.3,375.2 L1394.4,372.3 L1396.5,364.1 L1398.6,358.8 L1400.7,348.2 L1402.8,343.7 L1404.9,329.6 L1407.0,328.6 L1409.1,316.3 L1411.2,314.6 L1413.3,316.0 L1415.4,312.2 L1417.5,314.1 L1419.6,306.3 L1421.7,317.5 L1423.8,310.2 L1425.9,308.7 L1428.0,305.7 L1430.1,304.9 L1432.2,307.8 L1434.3,306.3 L1436.4,298.3 L1438.5,305.1 L1440.6,310.9 L1442.7,310.9 L1444.8,318.6 L1446.9,330.3 L1449.0,333.2 L1451.1,336.5 L1453.2,331.4 L1455.3,334.6 L1457.4,345.5 L1459.5,347.9 L1461.6,356.1 L1463.7,367.5 L1465.8,364.1 L1467.9,371.2 L1470.0,374.9 L1472.1,384.2 L1474.2,397.4 L1476.3,401.2 L1478.4,411.6 L1480.5,433.8 L1482.6,444.2 L1484.7,457.0 L1486.8,463.0 L1488.9,467.4 L1491.0,477.5 L1493.1,484.8 L1495.2,486.3 L1497.3,502.2 L1499.4,503.6 L1501.5,519.3 L1503.6,531.5 L1505.7,535.5 L1507.8,545.5 L1509.9,546.5 L1512.0,558.5 L1514.1,561.2 L1516.2,572.1 L1518.3,570.3 L1520.4,579.1 L1522.5,590.1 L1524.6,590.7 L1526.7,598.6 L1528.8,609.7 L1530.9,617.3 L1533.0,625.2 L1535.1,629.6 L1537.2,637.3 L1539.3,641.9 L1541.4,649.9 L1543.5,654.3 L1545.6,663.9 L1547.7,662.2 L1549.8,666.5 L1551.9,674.9 L1554.0,678.6 L1556.1,681.2 L1558.2,682.2 L1560.3,693.4 L1562.4,695.9 L1564.5,700.1 L1566.6,700.0 L1568.7,709.9 L1570.8,715.9 L1572.9,727.6 L1575.0,728.7 L1577.1,731.3 L1579.2,738.5 L1581.3,742.3 L1583.4,750.0 L1585.5,750.8 L1587.6,758.8 L1589.7,763.0 L1591.8,767.6 L1593.9,767.6 L1596.0,772.5 L1598.1,779.4 L1600.2,787.4 L1602.3,794.9 L1604.4,802.1 L1606.5,803.1 L1608.6,811.6 L1610.7,815.2 L1612.8,816.2 L1614.9,817.4 L1617.0,820.5 L1619.1,819.1 L1621.2,819.4 L1623.3,825.7 L1625.4,827.3 L1627.5,830.6 L1629.6,834.4 L1631.7,839.5 L1633.8,842.2 L1635.9,848.7 L1638.0,853.4 L1640.1,857.3 L1642.2,858.0 L1644.3,860.6 L1646.4,865.8 L1648.5,865.1 L1650.6,866.2 L1652.7,872.5 L1654.8,873.2 L1656.9,880.9 L1659.0,880.8 L1661.1,882.6 L1663.2,883.1 L1665.3,884.6 L1667.4,887.4 L1669.5,889.4 L1671.6,890.2 L1673.7,893.4 L1675.8,897.1 L1677.9,898.9 L1680.0,898.8 L1682.1,899.5 L1684.2,904.6 L1686.3,907.5 L1688.4,912.9 L1690.5,917.9 L1692.6,920.0 L1694.7,921.3 L1696.8,925.0 L1698.9,927.9 L1701.0,926.4 L1703.1,927.0" stroke="#8b0000"/>
<path d="M294.0,1079.4 L296.1,1077.8 L298.2,1079.7 L300.3,1079.4 L302.4,1080.7 L304.5,1080.7 L306.6,1080.9 L308.7,1082.2 L310.8,1081.0 L312.9,1079.2 L315.0,1079.1 L317.1,1078.9 L319.2,1078.5 L321.3,1077.8 L323.4,1079.3 L325.5,1079.2 L327.6,1079.5 L329.7,1080.4 L331.8,1077.9 L333.9,1078.1 L336.0,1078.9 L338.1,1080.9 L340.2,1081.1 L342.3,1079.6 L344.4,1078.7 L346.5,1078.2 L348.6,1080.5 L350.7,1080.4 L352.8,1080.6 L354.9,1081.8 L357.0,1084.2 L359.1,1084.8 L361.2,1084.3 L363.3,1084.2 L365.4,1082.7 L367.5,1084.2 L369.6,1084.2 L371.7,1084.0 L373.8,1084.5 L375.9,1085.4 L378.0,1087.6 L380.1,1086.3 L382.2,1086.1 L384.3,1086.2 L386.4,1083.9 L388.5,1083.7 L390.6,1082.4 L392.7,1083.5 L394.8,1086.3 L396.9,1084.3 L399.0,1083.1 L401.1,1082.8 L403.2,1084.0 L405.3,1082.1 L407.4,1082.5 L409.5,1081.9 L411.6,1082.4 L413.7,1081.4 L415.8,1078.4 L417.9,1078.3 L420.0,1077.7 L422.1,1080.8 L424.2,1077.6 L426.3,1077.1 L428.4,1078.4 L430.5,1077.0 L432.6,1079.2 L434.7,1078.1 L436.8,1080.2 L438.9,1079.5 L441.0,1081.2 L443.1,1081.9 L445.2,1081.6 L447.3,1081.7 L449.4,1083.9 L451.5,1084.3 L453.6,1083.0 L455.7,1085.5 L457.8,1086.7 L459.9,1088.1 L462.0,1087.6 L464.1,1090.2 L466.2,1091.1 L468.3,1092.3 L470.4,1092.9 L472.5,1092.6 L474.6,1093.7 L476.7,1093.6 L478.8,1092.7 L480.9,1090.8 L483.0,1089.8 L485.1,1089.2 L487.2,1087.9 L489.3,1087.8 L491.4,1085.5 L493.5,1081.7 L495.6,1080.3 L497.7,1080.9 L499.8,1081.0 L501.9,1083.9 L504.0,1084.3 L506.1,1083.3 L508.2,1082.5 L510.3,1082.5 L512.4,1082.0 L514.5,1081.5 L516.6,1082.3 L518.7,1080.8 L520.8,1081.6 L522.9,1080.9 L525.0,1080.8 L527.1,1079.4 L529.2,1079.0 L531.3,1080.2 L533.4,1079.3 L535.5,1080.5 L537.6,1081.2 L539.7,1080.5 L541.8,1080.8 L543.9,1081.8 L546.0,1082.0 L548.1,1083.1 L550.2,1083.9 L552.3,1082.1 L554.4,1081.6 L556.5,1080.4 L558.6,1082.1 L560.7,1081.9 L562.8,1082.4 L564.9,1082.3 L567.0,1079.6 L569.1,1079.8 L571.2,1079.4 L573.3,1078.5 L575.4,1078.8 L577.5,1078.3 L579.6,1080.5 L581.7,1082.0 L583.8,1082.8 L585.9,1081.3 L588.0,1079.0 L590.1,1080.1 L592.2,1080.6 L594.3,1081.5 L596.4,1078.8 L598.5,1080.1 L600.6,1078.8 L602.7,1080.0 L604.8,1079.5 L606.9,1079.3 L609.0,1080.4 L611.1,1080.7 L613.2,1080.7 L615.3,1081.0 L617.4,1081.2 L619.5,1081.2 L621.6,1080.3 L623.7,1080.3 L625.8,1081.1 L627.9,1080.9 L630.0,1079.7 L632.1,1079.5 L634.2,1078.3 L636.3,1078.1 L638.4,1079.2 L640.5,1078.5 L642.6,1080.2 L644.7,1080.8 L646.8,1077.8 L648.9,1077.3 L651.0,1077.4 L653.1,1079.6 L655.2,1078.0 L657.3,1077.9 L659.4,1079.5 L661.5,1079.2 L663.6,1079.3 L665.7,1079.7 L667.8,1078.7 L669.9,1075.6 L672.0,1076.7 L674.1,1075.4 L676.2,1077.4 L678.3,1078.9 L680.4,1079.2 L682.5,1077.1 L684.6,1075.1 L686.7,1073.9 L688.8,1075.5 L690.9,1077.2 L693.0,1077.3 L695.1,1076.2 L697.2,1074.8 L699.3,1072.4 L701.4,1075.5 L703.5,1075.5 L705.6,1073.7 L707.7,1072.7 L709.8,1072.2 L711.9,1072.6 L714.0,1072.4 L716.1,1074.5 L718.2,1073.8 L720.3,1072.4 L722.4,1072.1 L724.5,1072.8 L726.6,1073.4 L728.7,1072.1 L730.8,1071.4 L732.9,1072.9 L735.0,1070.5 L737.1,1070.5 L739.2,1069.2 L741.3,1069.8 L743.4,1067.9 L745.5,1069.5 L747.6,1069.2 L749.7,1070.0 L751.8,1067.8 L753.9,1067.6 L756.0,1068.9 L758.1,1070.3 L760.2,1067.2 L762.3,1067.0 L764.4,1066.3 L766.5,1067.0 L768.6,1067.1 L770.7,1065.7 L772.8,1065.7 L774.9,1065.7 L777.0,1065.1 L779.1,1064.0 L781.2,1061.5 L783.3,1060.3 L785.4,1061.1 L787.5,1062.5 L789.6,1065.4 L791.7,1064.3 L793.8,1064.1 L795.9,1063.4 L798.0,1060.4 L800.1,1060.2 L802.2,1058.9 L804.3,1058.1 L806.4,1058.3 L808.5,1060.9 L810.6,1061.1 L812.7,1060.2 L814.8,1058.0 L816.9,1057.9 L819.0,1056.4 L821.1,1056.1 L823.2,1054.7 L825.3,1054.2 L827.4,1054.1 L829.5,1054.5 L831.6,1054.2 L833.7,1053.5 L835.8,1053.6 L837.9,1052.6 L840.0,1050.6 L842.1,1051.8 L844.2,1050.1 L846.3,1050.5 L848.4,1047.6 L850.5,1049.5 L852.6,1048.3 L854.7,1049.2 L856.8,1049.2 L858.9,1048.9 L861.0,1047.0 L863.1,1048.8 L865.2,1046.4 L867.3,1046.5 L869.4,1046.1 L871.5,1043.4 L873.6,1044.1 L875.7,1042.7 L877.8,1043.3 L879.9,1041.1 L882.0,1039.0 L884.1,1039.7 L886.2,1039.4 L888.3,1037.1 L890.4,1039.3 L892.5,1035.9 L894.6,1037.0 L896.7,1035.4 L898.8,1035.3 L900.9,1033.8 L903.0,1032.1 L905.1,1030.5 L907.2,1030.6 L909.3,1029.1 L911.4,1026.6 L913.5,1023.5 L915.6,1023.2 L917.7,1024.2 L919.8,1021.4 L921.9,1018.7 L924.0,1016.5 L926.1,1015.0 L928.2,1013.5 L930.3,1012.2 L932.4,1013.5 L934.5,1011.1 L936.6,1009.7 L938.7,1006.7 L940.8,1009.0 L942.9,1008.1 L945.0,1003.8 L947.1,1005.1 L949.2,1002.8 L951.3,999.6 L953.4,997.0 L955.5,999.3 L957.6,996.1 L959.7,994.1 L961.8,989.4 L963.9,987.3 L966.0,987.3 L968.1,983.4 L970.2,981.2 L972.3,975.2 L974.4,972.1 L976.5,969.2 L978.6,969.3 L980.7,961.0 L982.8,959.0 L984.9,958.1 L987.0,954.9 L989.1,953.3 L991.2,951.2 L993.3,947.2 L995.4,944.3 L997.5,936.0 L999.6,933.1 L1001.7,928.7 L1003.8,924.7 L1005.9,920.6 L1008.0,918.3 L1010.1,913.8 L1012.2,911.8 L1014.3,905.4 L1016.4,899.5 L1018.5,894.3 L1020.6,889.6 L1022.7,882.2 L1024.8,878.6 L1026.9,870.1 L1029.0,870.4 L1031.1,862.7 L1033.2,857.6 L1035.3,851.3 L1037.4,846.2 L1039.5,840.7 L1041.6,832.3 L1043.7,824.0 L1045.8,819.6 L1047.9,816.5 L1050.0,811.4 L1052.1,803.6 L1054.2,795.3 L1056.3,782.6 L1058.4,771.6 L1060.5,764.9 L1062.6,758.0 L1064.7,752.7 L1066.8,741.2 L1068.9,733.6 L1071.0,720.3 L1073.1,705.3 L1075.2,695.7 L1077.3,683.0 L1079.4,665.3 L1081.5,659.0 L1083.6,652.7 L1085.7,637.0 L1087.8,629.6 L1089.9,613.9 L1092.0,605.0 L1094.1,586.0 L1096.2,572.7 L1098.3,561.1 L1100.4,548.6 L1102.5,528.7 L1104.6,509.7 L1106.7,497.5 L1108.8,487.4 L1110.9,475.4 L1113.0,465.0 L1115.1,453.9 L1117.2,443.0 L1119.3,432.9 L1121.4,423.4 L1123.5,419.0 L1125.6,404.7 L1127.7,388.1 L1129.8,380.5 L1131.9,370.8 L1134.0,362.7 L1136.1,353.2 L1138.2,343.0 L1140.3,334.5 L1142.4,326.4 L1144.5,325.7 L1146.6,322.5 L1148.7,310.9 L1150.8,312.7 L1152.9,303.8 L1155.0,299.7 L1157.1,292.4 L1159.2,293.6 L1161.3,295.0 L1163.4,288.4 L1165.5,294.5 L1167.6,289.8 L1169.7,284.6 L1171.8,296.0 L1173.9,297.8 L1176.0,301.4 L1178.1,301.5 L1180.2,298.1 L1182.3,292.9 L1184.4,302.3 L1186.5,307.0 L1188.6,324.5 L1190.7,328.1 L1192.8,323.3 L1194.9,329.2 L1197.0,336.0 L1199.1,344.9 L1201.2,349.1 L1203.3,358.1 L1205.4,375.7 L1207.5,380.5 L1209.6,380.0 L1211.7,389.3 L1213.8,400.0 L1215.9,409.8 L1218.0,418.7 L1220.1,425.9 L1222.2,432.9 L1224.3,449.9 L1226.4,459.5 L1228.5,470.5 L1230.6,482.4 L1232.7,494.8 L1234.8,501.4 L1236.9,505.2 L1239.0,519.1 L1241.1,522.9 L1243.2,538.2 L1245.3,548.8 L1247.4,558.4 L1249.5,577.4 L1251.6,593.9 L1253.7,598.3 L1255.8,613.8 L1257.9,628.4 L1260.0,631.8 L1262.1,647.7 L1264.2,656.1 L1266.3,670.7 L1268.4,676.0 L1270.5,686.4 L1272.6,697.3 L1274.7,703.1 L1276.8,708.9 L1278.9,714.8 L1281.0,726.4 L1283.1,734.2 L1285.2,743.9 L1287.3,749.9 L1289.4,760.1 L1291.5,770.2 L1293.6,777.9 L1295.7,785.5 L1297.8,789.8 L1299.9,795.3 L1302.0,795.7 L1304.1,805.5 L1306.2,806.3 L1308.3,811.2 L1310.4,821.5 L1312.5,822.4 L1314.6,833.9 L1316.7,836.9 L1318.8,843.4 L1320.9,849.8 L1323.0,855.0 L1325.1,860.0 L1327.2,863.6 L1329.3,870.3 L1331.4,874.3 L1333.5,880.5 L1335.6,883.4 L1337.7,892.2 L1339.8,892.2 L1341.9,896.7 L1344.0,897.0 L1346.1,900.6 L1348.2,905.5 L1350.3,906.4 L1352.4,906.4 L1354.5,912.8 L1356.6,913.9 L1358.7,920.1 L1360.8,922.3 L1362.9,921.9 L1365.0,927.9 L1367.1,930.1 L1369.2,934.0 L1371.3,931.0 L1373.4,935.3 L1375.5,936.7 L1377.6,935.5 L1379.7,936.8 L1381.8,941.6 L1383.9,940.3 L1386.0,942.3 L1388.1,941.7 L1390.2,942.6 L1392.3,944.2 L1394.4,946.0 L1396.5,943.9 L1398.6,948.1 L1400.7,950.5 L1402.8,952.8 L1404.9,951.0 L1407.0,953.4 L1409.1,955.5 L1411.2,955.7 L1413.3,955.7 L1415.4,956.4 L1417.5,960.0 L1419.6,963.3 L1421.7,965.3 L1423.8,963.2 L1425.9,962.7 L1428.0,966.2 L1430.1,967.3 L1432.2,968.4 L1434.3,972.2 L1436.4,970.3 L1438.5,971.1 L1440.6,970.2 L1442.7,973.4 L1444.8,972.1 L1446.9,975.0 L1449.0,973.7 L1451.1,974.9 L1453.2,974.4 L1455.3,976.0 L1457.4,977.8 L1459.5,979.8 L1461.6,980.6 L1463.7,978.6 L1465.8,978.5 L1467.9,982.6 L1470.0,982.9 L1472.1,984.1 L1474.2,986.0 L1476.3,986.0 L1478.4,985.5 L1480.5,985.7 L1482.6,985.9 L1484.7,985.0 L1486.8,985.1 L1488.9,986.9 L1491.0,987.4 L1493.1,986.9 L1495.2,988.3 L1497.3,987.5 L1499.4,987.3 L1501.5,987.3 L1503.6,991.1 L1505.7,990.7 L1507.8,989.2 L1509.9,991.4 L1512.0,990.8 L1514.1,990.3 L1516.2,990.1 L1518.3,994.0 L1520.4,996.6 L1522.5,999.0 L1524.6,997.0 L1526.7,996.2 L1528.8,996.2 L1530.9,998.2 L1533.0,1000.8 L1535.1,999.1 L1537.2,997.2 L1539.3,999.8 L1541.4,998.6 L1543.5,1000.4 L1545.6,1002.5 L1547.7,1004.1 L1549.8,1000.5 L1551.9,1004.5 L1554.0,1005.4 L1556.1,1004.7 L1558.2,1006.2 L1560.3,1009.1 L1562.4,1007.5 L1564.5,1005.6 L1566.6,1007.2 L1568.7,1008.2 L1570.8,1009.0 L1572.9,1006.6 L1575.0,1007.9 L1577.1,1008.2 L1579.2,1010.5 L1581.3,1010.5 L1583.4,1011.4 L1585.5,1013.7 L1587.6,1013.8 L1589.7,1015.2 L1591.8,1013.8 L1593.9,1014.1 L1596.0,1014.7 L1598.1,1016.9 L1600.2,1018.5 L1602.3,1020.1 L1604.4,1018.2 L1606.5,1019.4 L1608.6,1020.1 L1610.7,1022.0 L1612.8,1021.5 L1614.9,1020.6 L1617.0,1020.3 L1619.1,1021.3 L1621.2,1021.4 L1623.3,1021.1 L1625.4,1018.1 L1627.5,1022.6 L1629.6,1022.4 L1631.7,1024.4 L1633.8,1024.3 L1635.9,1021.4 L1638.0,1023.3 L1640.1,1025.7 L1642.2,1023.1 L1644.3,1025.7 L1646.4,1024.0 L1648.5,1024.1 L1650.6,1025.6 L1652.7,1023.5 L1654.8,1027.1 L1656.9,1026.1 L1659.0,1027.0 L1661.1,1027.5 L1663.2,1029.1 L1665.3,1028.6 L1667.4,1030.3 L1669.5,1030.5 L1671.6,1029.8 L1673.7,1031.7 L1675.8,1034.1 L1677.9,1034.5 L1680.0,1036.2 L1682.1,1034.8 L1684.2,1035.1 L1686.3,1030.8 L1688.4,1032.0 L1690.5,1032.4 L1692.6,1032.9 L1694.7,1033.1 L1696.8,1033.4 L1698.9,1033.2 L1701.0,1033.0 L1703.1,1030.8" stroke="#008000"/>
</g>
<line x1="293.5" y1="33.0" x2="293.5" y2="1258.8" stroke="#000" stroke-width="6.0" stroke-linecap="butt"/>
<line x1="1704.0" y1="30.0" x2="1704.0" y2="1258.8" stroke="#000" stroke-width="6.0" stroke-linecap="butt"/>
<line x1="272.5" y1="33.0" x2="1707.0" y2="33.0" stroke="#000" stroke-width="6.0" stroke-linecap="round"/>
<line x1="272.5" y1="1234.8" x2="1707.0" y2="1234.8" stroke="#000" stroke-width="7.8" stroke-linecap="round"/>
<line x1="282.5" y1="153.2" x2="293.5" y2="153.2" stroke="#000" stroke-width="6.0" stroke-linecap="round"/>
<line x1="272.5" y1="273.4" x2="293.5" y2="273.4" stroke="#000" stroke-width="6.0" stroke-linecap="round"/>
<line x1="282.5" y1="393.5" x2="293.5" y2="393.5" stroke="#000" stroke-width="6.0" stroke-linecap="round"/>
<line x1="272.5" y1="513.7" x2="293.5" y2="513.7" stroke="#000" stroke-width="6.0" stroke-linecap="round"/>
<line x1="282.5" y1="633.9" x2="293.5" y2="633.9" stroke="#000" stroke-width="6.0" stroke-linecap="round"/>
<line x1="272.5" y1="754.1" x2="293.5" y2="754.1" stroke="#000" stroke-width="6.0" stroke-linecap="round"/>
<line x1="282.5" y1="874.3" x2="293.5" y2="874.3" stroke="#000" stroke-width="6.0" stroke-linecap="round"/>
<line x1="272.5" y1="994.4" x2="293.5" y2="994.4" stroke="#000" stroke-width="6.0" stroke-linecap="round"/>
<line x1="282.5" y1="1114.6" x2="293.5" y2="1114.6" stroke="#000" stroke-width="6.0" stroke-linecap="round"/>
<line x1="293.5" y1="1234.8" x2="293.5" y2="1256.8" stroke="#000" stroke-width="6.0" stroke-linecap="round"/>
<line x1="328.8" y1="1234.8" x2="328.8" y2="1245.8" stroke="#000" stroke-width="6.0" stroke-linecap="round"/>
<line x1="364.0" y1="1234.8" x2="364.0" y2="1245.8" stroke="#000" stroke-width="6.0" stroke-linecap="round"/>
<line x1="399.3" y1="1234.8" x2="399.3" y2="1245.8" stroke="#000" stroke-width="6.0" stroke-linecap="round"/>
<line x1="434.6" y1="1234.8" x2="434.6" y2="1245.8" stroke="#000" stroke-width="6.0" stroke-linecap="round"/>
<line x1="469.8" y1="1234.8" x2="469.8" y2="1256.8" stroke="#000" stroke-width="6.0" stroke-linecap="round"/>
<line x1="505.1" y1="1234.8" x2="505.1" y2="1245.8" stroke="#000" stroke-width="6.0" stroke-linecap="round"/>
<line x1="540.3" y1="1234.8" x2="540.3" y2="1245.8" stroke="#000" stroke-width="6.0" stroke-linecap="round"/>
<line x1="575.6" y1="1234.8" x2="575.6" y2="1245.8" stroke="#000" stroke-width="6.0" stroke-linecap="round"/>
<line x1="610.9" y1="1234.8" x2="610.9" y2="1245.8" stroke="#000" stroke-width="6.0" stroke-linecap="round"/>
<line x1="646.1" y1="1234.8" x2="646.1" y2="1256.8" stroke="#000" stroke-width="6.0" stroke-linecap="round"/>
<line x1="681.4" y1="1234.8" x2="681.4" y2="1245.8" stroke="#000" stroke-width="6.0" stroke-linecap="round"/>
<line x1="716.6" y1="1234.8" x2="716.6" y2="1245.8" stroke="#000" stroke-width="6.0" stroke-linecap="round"/>
<line x1="751.9" y1="1234.8" x2="751.9" y2="1245.8" stroke="#000" stroke-width="6.0" stroke-linecap="round"/>
<line x1="787.2" y1="1234.8" x2="787.2" y2="1245.8" stroke="#000" stroke-width="6.0" stroke-linecap="round"/>
<line x1="822.4" y1="1234.8" x2="822.4" y2="1256.8" stroke="#000" stroke-width="6.0" stroke-linecap="round"/>
<line x1="857.7" y1="1234.8" x2="857.7" y2="1245.8" stroke="#000" stroke-width="6.0" stroke-linecap="round"/>
<line x1="893.0" y1="1234.8" x2="893.0" y2="1245.8" stroke="#000" stroke-width="6.0" stroke-linecap="round"/>
<line x1="928.2" y1="1234.8" x2="928.2" y2="1245.8" stroke="#000" stroke-width="6.0" stroke-linecap="round"/>
<line x1="963.5" y1="1234.8" x2="963.5" y2="1245.8" stroke="#000" stroke-width="6.0" stroke-linecap="round"/>
<line x1="998.8" y1="1234.8" x2="998.8" y2="1256.8" stroke="#000" stroke-width="6.0" stroke-linecap="round"/>
<line x1="1034.0" y1="1234.8" x2="1034.0" y2="1245.8" stroke="#000" stroke-width="6.0" stroke-linecap="round"/>
<line x1="1069.3" y1="1234.8" x2="1069.3" y2="1245.8" stroke="#000" stroke-width="6.0" stroke-linecap="round"/>
<line x1="1104.5" y1="1234.8" x2="1104.5" y2="1245.8" stroke="#000" stroke-width="6.0" stroke-linecap="round"/>
<line x1="1139.8" y1="1234.8" x2="1139.8" y2="1245.8" stroke="#000" stroke-width="6.0" stroke-linecap="round"/>
<line x1="1175.1" y1="1234.8" x2="1175.1" y2="1256.8" stroke="#000" stroke-width="6.0" stroke-linecap="round"/>
<line x1="1210.3" y1="1234.8" x2="1210.3" y2="1245.8" stroke="#000" stroke-width="6.0" stroke-linecap="round"/>
<line x1="1245.6" y1="1234.8" x2="1245.6" y2="1245.8" stroke="#000" stroke-width="6.0" stroke-linecap="round"/>
<line x1="1280.8" y1="1234.8" x2="1280.8" y2="1245.8" stroke="#000" stroke-width="6.0" stroke-linecap="round"/>
<line x1="1316.1" y1="1234.8" x2="1316.1" y2="1245.8" stroke="#000" stroke-width="6.0" stroke-linecap="round"/>
<line x1="1351.4" y1="1234.8" x2="1351.4" y2="1256.8" stroke="#000" stroke-width="6.0" stroke-linecap="round"/>
<line x1="1386.6" y1="1234.8" x2="1386.6" y2="1245.8" stroke="#000" stroke-width="6.0" stroke-linecap="round"/>
<line x1="1421.9" y1="1234.8" x2="1421.9" y2="1245.8" stroke="#000" stroke-width="6.0" stroke-linecap="round"/>
<line x1="1457.2" y1="1234.8" x2="1457.2" y2="1245.8" stroke="#000" stroke-width="6.0" stroke-linecap="round"/>
<line x1="1492.4" y1="1234.8" x2="1492.4" y2="1245.8" stroke="#000" stroke-width="6.0" stroke-linecap="round"/>
<line x1="1527.7" y1="1234.8" x2="1527.7" y2="1256.8" stroke="#000" stroke-width="6.0" stroke-linecap="round"/>
<line x1="1563.0" y1="1234.8" x2="1563.0" y2="1245.8" stroke="#000" stroke-width="6.0" stroke-linecap="round"/>
<line x1="1598.2" y1="1234.8" x2="1598.2" y2="1245.8" stroke="#000" stroke-width="6.0" stroke-linecap="round"/>
<line x1="1633.5" y1="1234.8" x2="1633.5" y2="1245.8" stroke="#000" stroke-width="6.0" stroke-linecap="round"/>
<line x1="1668.7" y1="1234.8" x2="1668.7" y2="1245.8" stroke="#000" stroke-width="6.0" stroke-linecap="round"/>
<line x1="1704.0" y1="1234.8" x2="1704.0" y2="1256.8" stroke="#000" stroke-width="6.0" stroke-linecap="round"/>
<text transform="translate(287.0,1323.3) scale(0.945,1.0)" font-size="82" text-anchor="middle">400</text>
<text transform="translate(463.3,1323.3) scale(0.945,1.0)" font-size="82" text-anchor="middle">425</text>
<text transform="translate(639.6,1323.3) scale(0.945,1.0)" font-size="82" text-anchor="middle">450</text>
<text transform="translate(815.9,1323.3) scale(0.945,1.0)" font-size="82" text-anchor="middle">475</text>
<text transform="translate(992.2,1323.3) scale(0.945,1.0)" font-size="82" text-anchor="middle">500</text>
<text transform="translate(1168.6,1323.3) scale(0.945,1.0)" font-size="82" text-anchor="middle">525</text>
<text transform="translate(1344.9,1323.3) scale(0.945,1.0)" font-size="82" text-anchor="middle">550</text>
<text transform="translate(1521.2,1323.3) scale(0.945,1.0)" font-size="82" text-anchor="middle">575</text>
<text transform="translate(1697.5,1323.3) scale(0.945,1.0)" font-size="82" text-anchor="middle">600</text>
<text transform="translate(999.0,1424.3) scale(0.96,1.0)" font-size="80" text-anchor="middle" stroke="#000" stroke-width="0.7">Diffraction wavelength (nm)</text>
<text transform="translate(209.8,629.0) rotate(-90) scale(1.0,0.96)" font-size="80.5" text-anchor="middle" stroke="#000" stroke-width="0.5">Diffraction Intensity (A.U.)</text>
<text transform="translate(152.5,64.8) scale(0.9,1.0)" font-size="86" text-anchor="start">a</text>
<text transform="translate(795.5,217.0) scale(0.965,1.0)" font-size="64.5" text-anchor="start">3</text>
<text transform="translate(846.0,220.0) scale(0.965,1.0)" font-size="64.5" text-anchor="start">1</text>
<text transform="translate(958.0,220.0) scale(0.965,1.0)" font-size="64.5" text-anchor="start">0.5</text>
<text transform="translate(1152.5,216.5) scale(0.965,1.0)" font-size="64.5" text-anchor="start">0</text>
<text transform="translate(1246.0,217.0) scale(0.965,1.0)" font-size="64.5" text-anchor="start">10</text>
<text transform="translate(1332.5,217.0) scale(0.965,1.0)" font-size="64.5" text-anchor="start">20</text>
<text transform="translate(1417.5,215.5) scale(0.965,1.0)" font-size="64.5" text-anchor="start">50</text>
<path d="M1121,138.5 C1010,138.5 900,133 830,124 C800,120 800,113.5 830,110 C930,97 1090,90 1240,88.3 L1445,87.5" fill="none" stroke="#000" stroke-width="5.8" stroke-linecap="round"/>
<path d="M1440,78.5 L1473,87.4 L1440,96.3 Z" fill="#000" stroke="#000" stroke-width="1.5" stroke-linejoin="round"/>
</g>
<g id="panel-b">
<g transform="translate(635.2,1571.4)">
<defs>
<clipPath id="p1clip"><rect x="0" y="0" width="348.0" height="252.2"/></clipPath>
<clipPath id="p1bclip"><ellipse cx="161.3" cy="145.5" rx="50.0" ry="46.0"/></clipPath>
<filter id="p1b1" x="-20%" y="-20%" width="140%" height="140%"><feGaussianBlur stdDeviation="1.3"/></filter>
<filter id="p1b2" x="-20%" y="-20%" width="140%" height="140%"><feGaussianBlur stdDeviation="2.2"/></filter>
<filter id="p1b3" x="-30%" y="-30%" width="160%" height="160%"><feGaussianBlur stdDeviation="4"/></filter>
<linearGradient id="p1shade" x1="0" y1="0" x2="0" y2="1">
<stop offset="0" stop-color="#000" stop-opacity="0.28"/><stop offset="0.55" stop-color="#000" stop-opacity="0.10"/>
<stop offset="1" stop-color="#000" stop-opacity="0"/></linearGradient>
</defs>
<rect x="0" y="0" width="348.0" height="252.2" fill="#060505"/>
<g clip-path="url(#p1clip)">
<g filter="url(#p1b2)">
<rect x="48.0" y="25.5" width="231.0" height="252.2" rx="14" fill="#0f0c0b" stroke="#322d2a" stroke-width="3"/>
</g>
<g filter="url(#p1b2)" fill="none">
<ellipse cx="162.0" cy="123.5" rx="110" ry="117" fill="#676765" opacity="1"/>
<ellipse cx="162.0" cy="123.5" rx="106.5" ry="113.5" stroke="#dedcd7" stroke-width="10" opacity="0.95"/>
<ellipse cx="162.0" cy="124.5" rx="97.5" ry="103.5" stroke="#474746" stroke-width="4" opacity="0.9"/>
<ellipse cx="162.0" cy="126.5" rx="89" ry="93.5" stroke="#c6c5c0" stroke-width="7" opacity="0.9"/>
<ellipse cx="162.0" cy="129.5" rx="80" ry="83" stroke="#323231" stroke-width="7" opacity="0.95"/>
</g>
<ellipse cx="162.0" cy="123.5" rx="114" ry="121" fill="url(#p1shade)"/>
<g filter="url(#p1b1)">
<ellipse cx="159.5" cy="136.5" rx="71.5" ry="73.5" fill="#1a1c1c" stroke="#b9b8b2" stroke-width="3"/>
</g>
<g filter="url(#p1b2)" fill="none" stroke-linecap="round">
<path d="M241.7,194.2 A104.0,110.0 0 0 1 143.9,231.8" stroke="#f1f1ee" stroke-width="15" opacity="0.95"/>
<path d="M143.9,232.8 A104.0,111.0 0 0 1 71.9,179.0" stroke="#cfe7e6" stroke-width="9" opacity="0.8"/>
<path d="M70.2,180.0 A106.0,113.0 0 0 1 75.2,58.7" stroke="#d8d6d0" stroke-width="7" opacity="0.7"/>
<path d="M248.8,58.7 A106.0,113.0 0 0 1 261.6,162.1" stroke="#cfcdc7" stroke-width="6" opacity="0.6"/>
<path d="M244.7,158.3 A88.0,93.0 0 0 1 79.3,158.3" stroke="#bdbcb6" stroke-width="6" opacity="0.7"/>
<path d="M104.7,90.2 A70.0,58.0 0 0 1 215.6,86.2" stroke="#8e8d88" stroke-width="5" opacity="0.75"/>
<path d="M118.2,102.4 A62.0,44.0 0 0 1 193.0,95.4" stroke="#6f6e6a" stroke-width="4" opacity="0.7"/>
<path d="M130,76 L141,63 L148,74" stroke="#efefec" stroke-width="7" opacity="0.95"/>
</g>
<g filter="url(#p1b1)"><g clip-path="url(#p1bclip)"><g filter="url(#p1b3)">
<rect x="100" y="90" width="130" height="110" fill="#1c4152"/>
<ellipse cx="156" cy="107" rx="38" ry="8" fill="#8fc3d2"/>
<ellipse cx="119" cy="130" rx="7" ry="16" fill="#79b8ca"/>
<ellipse cx="205" cy="160" rx="10" ry="22" fill="#1a6aa6"/>
<ellipse cx="130" cy="168" rx="16" ry="15" fill="#22727a"/>
<ellipse cx="165" cy="146" rx="32" ry="26" fill="#15303f"/>
<ellipse cx="176" cy="186" rx="13" ry="6" fill="#38e27e"/>
<ellipse cx="150" cy="184" rx="14" ry="7" fill="#2fae8c"/>
</g></g></g>
<circle cx="161.3" cy="143.5" r="2.6" fill="#e8eeee" filter="url(#p1b1)"/>
</g>
</g>
<g transform="translate(869.0,2040.4)">
<defs>
<clipPath id="p2clip"><rect x="0" y="0" width="348.0" height="251.3"/></clipPath>
<clipPath id="p2bclip"><ellipse cx="166.7" cy="149.5" rx="50.0" ry="46.5"/></clipPath>
<filter id="p2b1" x="-20%" y="-20%" width="140%" height="140%"><feGaussianBlur stdDeviation="1.3"/></filter>
<filter id="p2b2" x="-20%" y="-20%" width="140%" height="140%"><feGaussianBlur stdDeviation="2.2"/></filter>
<filter id="p2b3" x="-30%" y="-30%" width="160%" height="160%"><feGaussianBlur stdDeviation="4"/></filter>
<linearGradient id="p2shade" x1="0" y1="0" x2="0" y2="1">
<stop offset="0" stop-color="#000" stop-opacity="0.28"/><stop offset="0.55" stop-color="#000" stop-opacity="0.10"/>
<stop offset="1" stop-color="#000" stop-opacity="0"/></linearGradient>
</defs>
<rect x="0" y="0" width="348.0" height="251.3" fill="#060505"/>
<g clip-path="url(#p2clip)">
<g filter="url(#p2b2)">
<rect x="51.0" y="24.0" width="233.0" height="251.3" rx="14" fill="#0f0c0b" stroke="#322d2a" stroke-width="3"/>
</g>
<g filter="url(#p2b2)" fill="none">
<ellipse cx="165.8" cy="129.5" rx="109" ry="116" fill="#646462" opacity="1"/>
<ellipse cx="165.8" cy="129.5" rx="105.5" ry="112.5" stroke="#d9d7d2" stroke-width="10.5" opacity="0.95"/>
<ellipse cx="165.8" cy="130.5" rx="96.5" ry="102.5" stroke="#454544" stroke-width="4" opacity="0.9"/>
<ellipse cx="165.8" cy="132.5" rx="88" ry="92.5" stroke="#c0bfba" stroke-width="7" opacity="0.9"/>
<ellipse cx="165.8" cy="135.5" rx="79" ry="81" stroke="#313130" stroke-width="7" opacity="0.95"/>
</g>
<ellipse cx="165.8" cy="129.5" rx="113" ry="120" fill="url(#p2shade)"/>
<g filter="url(#p2b1)">
<ellipse cx="167.0" cy="140.0" rx="71.8" ry="69.0" fill="#1b1c1d" stroke="#b9b8b2" stroke-width="3"/>
</g>
<g filter="url(#p2b2)" fill="none" stroke-linecap="round">
<path d="M259.1,175.6 A103.0,109.0 0 0 1 183.7,236.8" stroke="#e4e4e0" stroke-width="15" opacity="0.9"/>
<path d="M183.9,238.8 A104.0,111.0 0 0 1 75.7,185.0" stroke="#bdbcb6" stroke-width="9" opacity="0.75"/>
<path d="M74.9,185.5 A105.0,112.0 0 0 1 79.8,65.3" stroke="#cfcdc7" stroke-width="7" opacity="0.7"/>
<path d="M246.2,57.5 A105.0,112.0 0 0 1 264.5,167.8" stroke="#c9c7c1" stroke-width="6" opacity="0.6"/>
<path d="M247.6,164.0 A87.0,92.0 0 0 1 84.0,164.0" stroke="#b1b0aa" stroke-width="6" opacity="0.65"/>
<path d="M106.8,95.1 A72.0,60.0 0 0 1 224.8,95.1" stroke="#8a8985" stroke-width="5" opacity="0.75"/>
<path d="M114,96 L128,74 L138,88" stroke="#efefec" stroke-width="8" opacity="0.95"/><path d="M182,100 L192,84" stroke="#cfcfca" stroke-width="4" opacity="0.8"/><path d="M112,108 Q166,70 222,108 Q166,92 112,108 Z" fill="#5a544e" stroke="#5a544e" stroke-width="6" opacity="0.8"/>
</g>
<g filter="url(#p2b1)"><g clip-path="url(#p2bclip)"><g filter="url(#p2b3)">
<rect x="105" y="95" width="130" height="110" fill="#507c96"/>
<ellipse cx="160" cy="112" rx="44" ry="12" fill="#a3c8d8"/>
<ellipse cx="124" cy="140" rx="9" ry="24" fill="#8fbfd2"/>
<ellipse cx="172" cy="146" rx="31" ry="24" fill="#3a6079"/>
<ellipse cx="135" cy="170" rx="16" ry="16" fill="#6ba6c2"/>
<path d="M136,181 L214,167 L214,202 L136,202 Z" fill="#1560d8"/>
<ellipse cx="178" cy="192" rx="9" ry="5" fill="#4be0c0"/>
</g></g></g>
<circle cx="166.7" cy="147.5" r="2.6" fill="#e8eeee" filter="url(#p2b1)"/>
</g>
</g>
<line x1="341.3" y1="1545.0" x2="341.3" y2="2776.0" stroke="#000" stroke-width="6.5" stroke-linecap="butt"/>
<line x1="1860.5" y1="1541.8" x2="1860.5" y2="2779.2" stroke="#000" stroke-width="7.0" stroke-linecap="butt"/>
<line x1="315.3" y1="1545.0" x2="1864.0" y2="1545.0" stroke="#000" stroke-width="6.8" stroke-linecap="butt"/>
<line x1="315.3" y1="2776.0" x2="1864.0" y2="2776.0" stroke="#000" stroke-width="7.3" stroke-linecap="butt"/>
<line x1="327.1" y1="2758.4" x2="341.3" y2="2758.4" stroke="#000" stroke-width="6.0" stroke-linecap="butt"/>
<line x1="327.1" y1="2740.8" x2="341.3" y2="2740.8" stroke="#000" stroke-width="6.0" stroke-linecap="butt"/>
<line x1="327.1" y1="2723.2" x2="341.3" y2="2723.2" stroke="#000" stroke-width="6.0" stroke-linecap="butt"/>
<line x1="327.1" y1="2705.7" x2="341.3" y2="2705.7" stroke="#000" stroke-width="6.0" stroke-linecap="butt"/>
<line x1="327.1" y1="2688.1" x2="341.3" y2="2688.1" stroke="#000" stroke-width="6.0" stroke-linecap="butt"/>
<line x1="327.1" y1="2670.5" x2="341.3" y2="2670.5" stroke="#000" stroke-width="6.0" stroke-linecap="butt"/>
<line x1="327.1" y1="2652.9" x2="341.3" y2="2652.9" stroke="#000" stroke-width="6.0" stroke-linecap="butt"/>
<line x1="327.1" y1="2635.3" x2="341.3" y2="2635.3" stroke="#000" stroke-width="6.0" stroke-linecap="butt"/>
<line x1="327.1" y1="2617.7" x2="341.3" y2="2617.7" stroke="#000" stroke-width="6.0" stroke-linecap="butt"/>
<line x1="315.3" y1="2600.1" x2="341.3" y2="2600.1" stroke="#000" stroke-width="6.5" stroke-linecap="butt"/>
<line x1="327.1" y1="2582.6" x2="341.3" y2="2582.6" stroke="#000" stroke-width="6.0" stroke-linecap="butt"/>
<line x1="327.1" y1="2565.0" x2="341.3" y2="2565.0" stroke="#000" stroke-width="6.0" stroke-linecap="butt"/>
<line x1="327.1" y1="2547.4" x2="341.3" y2="2547.4" stroke="#000" stroke-width="6.0" stroke-linecap="butt"/>
<line x1="327.1" y1="2529.8" x2="341.3" y2="2529.8" stroke="#000" stroke-width="6.0" stroke-linecap="butt"/>
<line x1="327.1" y1="2512.2" x2="341.3" y2="2512.2" stroke="#000" stroke-width="6.0" stroke-linecap="butt"/>
<line x1="327.1" y1="2494.6" x2="341.3" y2="2494.6" stroke="#000" stroke-width="6.0" stroke-linecap="butt"/>
<line x1="327.1" y1="2477.0" x2="341.3" y2="2477.0" stroke="#000" stroke-width="6.0" stroke-linecap="butt"/>
<line x1="327.1" y1="2459.5" x2="341.3" y2="2459.5" stroke="#000" stroke-width="6.0" stroke-linecap="butt"/>
<line x1="327.1" y1="2441.9" x2="341.3" y2="2441.9" stroke="#000" stroke-width="6.0" stroke-linecap="butt"/>
<line x1="315.3" y1="2424.3" x2="341.3" y2="2424.3" stroke="#000" stroke-width="6.5" stroke-linecap="butt"/>
<line x1="327.1" y1="2406.7" x2="341.3" y2="2406.7" stroke="#000" stroke-width="6.0" stroke-linecap="butt"/>
<line x1="327.1" y1="2389.1" x2="341.3" y2="2389.1" stroke="#000" stroke-width="6.0" stroke-linecap="butt"/>
<line x1="327.1" y1="2371.5" x2="341.3" y2="2371.5" stroke="#000" stroke-width="6.0" stroke-linecap="butt"/>
<line x1="327.1" y1="2353.9" x2="341.3" y2="2353.9" stroke="#000" stroke-width="6.0" stroke-linecap="butt"/>
<line x1="327.1" y1="2336.4" x2="341.3" y2="2336.4" stroke="#000" stroke-width="6.0" stroke-linecap="butt"/>
<line x1="327.1" y1="2318.8" x2="341.3" y2="2318.8" stroke="#000" stroke-width="6.0" stroke-linecap="butt"/>
<line x1="327.1" y1="2301.2" x2="341.3" y2="2301.2" stroke="#000" stroke-width="6.0" stroke-linecap="butt"/>
<line x1="327.1" y1="2283.6" x2="341.3" y2="2283.6" stroke="#000" stroke-width="6.0" stroke-linecap="butt"/>
<line x1="327.1" y1="2266.0" x2="341.3" y2="2266.0" stroke="#000" stroke-width="6.0" stroke-linecap="butt"/>
<line x1="315.3" y1="2248.4" x2="341.3" y2="2248.4" stroke="#000" stroke-width="6.5" stroke-linecap="butt"/>
<line x1="327.1" y1="2230.8" x2="341.3" y2="2230.8" stroke="#000" stroke-width="6.0" stroke-linecap="butt"/>
<line x1="327.1" y1="2213.3" x2="341.3" y2="2213.3" stroke="#000" stroke-width="6.0" stroke-linecap="butt"/>
<line x1="327.1" y1="2195.7" x2="341.3" y2="2195.7" stroke="#000" stroke-width="6.0" stroke-linecap="butt"/>
<line x1="327.1" y1="2178.1" x2="341.3" y2="2178.1" stroke="#000" stroke-width="6.0" stroke-linecap="butt"/>
<line x1="327.1" y1="2160.5" x2="341.3" y2="2160.5" stroke="#000" stroke-width="6.0" stroke-linecap="butt"/>
<line x1="327.1" y1="2142.9" x2="341.3" y2="2142.9" stroke="#000" stroke-width="6.0" stroke-linecap="butt"/>
<line x1="327.1" y1="2125.3" x2="341.3" y2="2125.3" stroke="#000" stroke-width="6.0" stroke-linecap="butt"/>
<line x1="327.1" y1="2107.7" x2="341.3" y2="2107.7" stroke="#000" stroke-width="6.0" stroke-linecap="butt"/>
<line x1="327.1" y1="2090.2" x2="341.3" y2="2090.2" stroke="#000" stroke-width="6.0" stroke-linecap="butt"/>
<line x1="315.3" y1="2072.6" x2="341.3" y2="2072.6" stroke="#000" stroke-width="6.5" stroke-linecap="butt"/>
<line x1="327.1" y1="2055.0" x2="341.3" y2="2055.0" stroke="#000" stroke-width="6.0" stroke-linecap="butt"/>
<line x1="327.1" y1="2037.4" x2="341.3" y2="2037.4" stroke="#000" stroke-width="6.0" stroke-linecap="butt"/>
<line x1="327.1" y1="2019.8" x2="341.3" y2="2019.8" stroke="#000" stroke-width="6.0" stroke-linecap="butt"/>
<line x1="327.1" y1="2002.2" x2="341.3" y2="2002.2" stroke="#000" stroke-width="6.0" stroke-linecap="butt"/>
<line x1="327.1" y1="1984.6" x2="341.3" y2="1984.6" stroke="#000" stroke-width="6.0" stroke-linecap="butt"/>
<line x1="327.1" y1="1967.1" x2="341.3" y2="1967.1" stroke="#000" stroke-width="6.0" stroke-linecap="butt"/>
<line x1="327.1" y1="1949.5" x2="341.3" y2="1949.5" stroke="#000" stroke-width="6.0" stroke-linecap="butt"/>
<line x1="327.1" y1="1931.9" x2="341.3" y2="1931.9" stroke="#000" stroke-width="6.0" stroke-linecap="butt"/>
<line x1="327.1" y1="1914.3" x2="341.3" y2="1914.3" stroke="#000" stroke-width="6.0" stroke-linecap="butt"/>
<line x1="315.3" y1="1896.7" x2="341.3" y2="1896.7" stroke="#000" stroke-width="6.5" stroke-linecap="butt"/>
<line x1="327.1" y1="1879.1" x2="341.3" y2="1879.1" stroke="#000" stroke-width="6.0" stroke-linecap="butt"/>
<line x1="327.1" y1="1861.5" x2="341.3" y2="1861.5" stroke="#000" stroke-width="6.0" stroke-linecap="butt"/>
<line x1="327.1" y1="1844.0" x2="341.3" y2="1844.0" stroke="#000" stroke-width="6.0" stroke-linecap="butt"/>
<line x1="327.1" y1="1826.4" x2="341.3" y2="1826.4" stroke="#000" stroke-width="6.0" stroke-linecap="butt"/>
<line x1="327.1" y1="1808.8" x2="341.3" y2="1808.8" stroke="#000" stroke-width="6.0" stroke-linecap="butt"/>
<line x1="327.1" y1="1791.2" x2="341.3" y2="1791.2" stroke="#000" stroke-width="6.0" stroke-linecap="butt"/>
<line x1="327.1" y1="1773.6" x2="341.3" y2="1773.6" stroke="#000" stroke-width="6.0" stroke-linecap="butt"/>
<line x1="327.1" y1="1756.0" x2="341.3" y2="1756.0" stroke="#000" stroke-width="6.0" stroke-linecap="butt"/>
<line x1="327.1" y1="1738.4" x2="341.3" y2="1738.4" stroke="#000" stroke-width="6.0" stroke-linecap="butt"/>
<line x1="315.3" y1="1720.9" x2="341.3" y2="1720.9" stroke="#000" stroke-width="6.5" stroke-linecap="butt"/>
<line x1="327.1" y1="1703.3" x2="341.3" y2="1703.3" stroke="#000" stroke-width="6.0" stroke-linecap="butt"/>
<line x1="327.1" y1="1685.7" x2="341.3" y2="1685.7" stroke="#000" stroke-width="6.0" stroke-linecap="butt"/>
<line x1="327.1" y1="1668.1" x2="341.3" y2="1668.1" stroke="#000" stroke-width="6.0" stroke-linecap="butt"/>
<line x1="327.1" y1="1650.5" x2="341.3" y2="1650.5" stroke="#000" stroke-width="6.0" stroke-linecap="butt"/>
<line x1="327.1" y1="1632.9" x2="341.3" y2="1632.9" stroke="#000" stroke-width="6.0" stroke-linecap="butt"/>
<line x1="327.1" y1="1615.3" x2="341.3" y2="1615.3" stroke="#000" stroke-width="6.0" stroke-linecap="butt"/>
<line x1="327.1" y1="1597.8" x2="341.3" y2="1597.8" stroke="#000" stroke-width="6.0" stroke-linecap="butt"/>
<line x1="327.1" y1="1580.2" x2="341.3" y2="1580.2" stroke="#000" stroke-width="6.0" stroke-linecap="butt"/>
<line x1="327.1" y1="1562.6" x2="341.3" y2="1562.6" stroke="#000" stroke-width="6.0" stroke-linecap="butt"/>
<line x1="363.9" y1="2776.0" x2="363.9" y2="2791.2" stroke="#000" stroke-width="6.4" stroke-linecap="butt"/>
<line x1="407.3" y1="2776.0" x2="407.3" y2="2791.2" stroke="#000" stroke-width="6.4" stroke-linecap="butt"/>
<line x1="450.7" y1="2776.0" x2="450.7" y2="2802.5" stroke="#000" stroke-width="6.6" stroke-linecap="butt"/>
<line x1="494.1" y1="2776.0" x2="494.1" y2="2791.2" stroke="#000" stroke-width="6.4" stroke-linecap="butt"/>
<line x1="537.5" y1="2776.0" x2="537.5" y2="2791.2" stroke="#000" stroke-width="6.4" stroke-linecap="butt"/>
<line x1="580.8" y1="2776.0" x2="580.8" y2="2791.2" stroke="#000" stroke-width="6.4" stroke-linecap="butt"/>
<line x1="624.2" y1="2776.0" x2="624.2" y2="2791.2" stroke="#000" stroke-width="6.4" stroke-linecap="butt"/>
<line x1="667.6" y1="2776.0" x2="667.6" y2="2802.5" stroke="#000" stroke-width="6.6" stroke-linecap="butt"/>
<line x1="711.0" y1="2776.0" x2="711.0" y2="2791.2" stroke="#000" stroke-width="6.4" stroke-linecap="butt"/>
<line x1="754.4" y1="2776.0" x2="754.4" y2="2791.2" stroke="#000" stroke-width="6.4" stroke-linecap="butt"/>
<line x1="797.7" y1="2776.0" x2="797.7" y2="2791.2" stroke="#000" stroke-width="6.4" stroke-linecap="butt"/>
<line x1="841.1" y1="2776.0" x2="841.1" y2="2791.2" stroke="#000" stroke-width="6.4" stroke-linecap="butt"/>
<line x1="884.5" y1="2776.0" x2="884.5" y2="2802.5" stroke="#000" stroke-width="6.6" stroke-linecap="butt"/>
<line x1="927.9" y1="2776.0" x2="927.9" y2="2791.2" stroke="#000" stroke-width="6.4" stroke-linecap="butt"/>
<line x1="971.3" y1="2776.0" x2="971.3" y2="2791.2" stroke="#000" stroke-width="6.4" stroke-linecap="butt"/>
<line x1="1014.6" y1="2776.0" x2="1014.6" y2="2791.2" stroke="#000" stroke-width="6.4" stroke-linecap="butt"/>
<line x1="1058.0" y1="2776.0" x2="1058.0" y2="2791.2" stroke="#000" stroke-width="6.4" stroke-linecap="butt"/>
<line x1="1101.4" y1="2776.0" x2="1101.4" y2="2802.5" stroke="#000" stroke-width="6.6" stroke-linecap="butt"/>
<line x1="1144.8" y1="2776.0" x2="1144.8" y2="2791.2" stroke="#000" stroke-width="6.4" stroke-linecap="butt"/>
<line x1="1188.2" y1="2776.0" x2="1188.2" y2="2791.2" stroke="#000" stroke-width="6.4" stroke-linecap="butt"/>
<line x1="1231.5" y1="2776.0" x2="1231.5" y2="2791.2" stroke="#000" stroke-width="6.4" stroke-linecap="butt"/>
<line x1="1274.9" y1="2776.0" x2="1274.9" y2="2791.2" stroke="#000" stroke-width="6.4" stroke-linecap="butt"/>
<line x1="1318.3" y1="2776.0" x2="1318.3" y2="2802.5" stroke="#000" stroke-width="6.6" stroke-linecap="butt"/>
<line x1="1361.7" y1="2776.0" x2="1361.7" y2="2791.2" stroke="#000" stroke-width="6.4" stroke-linecap="butt"/>
<line x1="1405.1" y1="2776.0" x2="1405.1" y2="2791.2" stroke="#000" stroke-width="6.4" stroke-linecap="butt"/>
<line x1="1448.4" y1="2776.0" x2="1448.4" y2="2791.2" stroke="#000" stroke-width="6.4" stroke-linecap="butt"/>
<line x1="1491.8" y1="2776.0" x2="1491.8" y2="2791.2" stroke="#000" stroke-width="6.4" stroke-linecap="butt"/>
<line x1="1535.2" y1="2776.0" x2="1535.2" y2="2802.5" stroke="#000" stroke-width="6.6" stroke-linecap="butt"/>
<line x1="1578.6" y1="2776.0" x2="1578.6" y2="2791.2" stroke="#000" stroke-width="6.4" stroke-linecap="butt"/>
<line x1="1622.0" y1="2776.0" x2="1622.0" y2="2791.2" stroke="#000" stroke-width="6.4" stroke-linecap="butt"/>
<line x1="1665.3" y1="2776.0" x2="1665.3" y2="2791.2" stroke="#000" stroke-width="6.4" stroke-linecap="butt"/>
<line x1="1708.7" y1="2776.0" x2="1708.7" y2="2791.2" stroke="#000" stroke-width="6.4" stroke-linecap="butt"/>
<line x1="1752.1" y1="2776.0" x2="1752.1" y2="2802.5" stroke="#000" stroke-width="6.6" stroke-linecap="butt"/>
<line x1="1795.5" y1="2776.0" x2="1795.5" y2="2791.2" stroke="#000" stroke-width="6.4" stroke-linecap="butt"/>
<line x1="1838.9" y1="2776.0" x2="1838.9" y2="2791.2" stroke="#000" stroke-width="6.4" stroke-linecap="butt"/>
<text transform="translate(302.5,2798.4) scale(0.955,1.0)" font-size="86" text-anchor="end" stroke="#fff" stroke-width="0.6">460</text>
<text transform="translate(302.5,2622.5) scale(0.955,1.0)" font-size="86" text-anchor="end" stroke="#fff" stroke-width="0.6">470</text>
<text transform="translate(302.5,2446.7) scale(0.955,1.0)" font-size="86" text-anchor="end" stroke="#fff" stroke-width="0.6">480</text>
<text transform="translate(302.5,2270.8) scale(0.955,1.0)" font-size="86" text-anchor="end" stroke="#fff" stroke-width="0.6">490</text>
<text transform="translate(302.5,2095.0) scale(0.955,1.0)" font-size="86" text-anchor="end" stroke="#fff" stroke-width="0.6">500</text>
<text transform="translate(302.5,1919.1) scale(0.955,1.0)" font-size="86" text-anchor="end" stroke="#fff" stroke-width="0.6">510</text>
<text transform="translate(302.5,1743.3) scale(0.955,1.0)" font-size="86" text-anchor="end" stroke="#fff" stroke-width="0.6">520</text>
<text transform="translate(302.5,1567.4) scale(0.955,1.0)" font-size="86" text-anchor="end" stroke="#fff" stroke-width="0.6">530</text>
<text transform="translate(449.7,2879.3) scale(0.955,1.0)" font-size="86.5" text-anchor="middle" stroke="#fff" stroke-width="0.6">0.0</text>
<text transform="translate(666.6,2879.3) scale(0.955,1.0)" font-size="86.5" text-anchor="middle" stroke="#fff" stroke-width="0.6">0.5</text>
<text transform="translate(883.5,2879.3) scale(0.955,1.0)" font-size="86.5" text-anchor="middle" stroke="#fff" stroke-width="0.6">1.0</text>
<text transform="translate(1100.4,2879.3) scale(0.955,1.0)" font-size="86.5" text-anchor="middle" stroke="#fff" stroke-width="0.6">1.5</text>
<text transform="translate(1317.3,2879.3) scale(0.955,1.0)" font-size="86.5" text-anchor="middle" stroke="#fff" stroke-width="0.6">2.0</text>
<text transform="translate(1534.2,2879.3) scale(0.955,1.0)" font-size="86.5" text-anchor="middle" stroke="#fff" stroke-width="0.6">2.5</text>
<text transform="translate(1751.1,2879.3) scale(0.955,1.0)" font-size="86.5" text-anchor="middle" stroke="#fff" stroke-width="0.6">3.0</text>
<text transform="translate(1100.5,2998.0) scale(0.962,1.0)" font-size="86" text-anchor="middle">Glucose concentration (mM)</text>
<text transform="translate(94.3,2163.5) rotate(-90) scale(1.0,1.03)" font-size="82.4" text-anchor="middle" stroke="#fff" stroke-width="0.5">Diffraction wavelength (nm)</text>
<text transform="translate(41.0,1573.4) scale(1.03,1.0)" font-size="82" text-anchor="start" stroke="#000" stroke-width="0.6">b</text>
<path d="M449.5,1631.0 L453.6,1633.3 L457.5,1635.8 L461.2,1638.4 L464.8,1641.1 L468.1,1644.0 L471.1,1647.1 L473.8,1650.4 L476.2,1654.1 L478.5,1658.0 L480.6,1662.1 L482.7,1666.2 L484.7,1670.4 L486.9,1674.4 L489.2,1678.3 L491.7,1682.0 L494.5,1685.3 L497.5,1688.4 L500.9,1691.4 L504.4,1694.3 L508.1,1697.1 L511.8,1699.8 L515.6,1702.5 L519.3,1705.3 L522.9,1708.0 L526.4,1710.9 L529.7,1713.9 L532.8,1717.0 L535.5,1720.3 L538.1,1723.8 L540.4,1727.5 L542.7,1731.4 L544.8,1735.3 L546.9,1739.4 L548.9,1743.5 L550.9,1747.6 L552.9,1751.7 L554.9,1755.8 L556.9,1759.8 L558.9,1763.8 L560.9,1767.9 L562.8,1771.9 L564.7,1776.0 L566.6,1780.1 L568.5,1784.2 L570.3,1788.2 L572.2,1792.3 L574.1,1796.4 L576.0,1800.5 L577.9,1804.5 L579.8,1808.6 L581.8,1812.6 L583.7,1816.7 L585.7,1820.7 L587.7,1824.8 L589.6,1828.8 L591.6,1832.8 L593.6,1836.9 L595.6,1840.9 L597.5,1844.9 L599.5,1849.0 L601.5,1853.0 L603.4,1857.0 L605.4,1861.1 L607.4,1865.1 L609.3,1869.1 L611.3,1873.2 L613.3,1877.2 L615.3,1881.2 L617.2,1885.3 L619.2,1889.3 L621.2,1893.3 L623.2,1897.4 L625.1,1901.4 L627.1,1905.4 L629.1,1909.5 L631.0,1913.5 L633.0,1917.5 L635.0,1921.6 L637.0,1925.6 L638.9,1929.6 L640.9,1933.7 L642.9,1937.7 L644.9,1941.7 L646.8,1945.8 L648.8,1949.8 L650.8,1953.9 L652.7,1957.9 L654.7,1961.9 L656.7,1966.0 L658.6,1970.0 L660.6,1974.0 L662.6,1978.1 L664.6,1982.1 L666.5,1986.1 L668.5,1990.2 L670.4,1994.2 L672.4,1998.3 L674.3,2002.3 L676.3,2006.4 L678.2,2010.4 L680.2,2014.5 L682.1,2018.5 L684.1,2022.5 L686.2,2026.5 L688.2,2030.5 L690.3,2034.5 L692.3,2038.6 L694.3,2042.7 L696.3,2046.9 L698.3,2051.0 L700.4,2055.1 L702.6,2059.0 L705.0,2062.7 L707.5,2066.2 L710.3,2069.4 L713.5,2072.3 L717.1,2075.1 L720.8,2077.7 L724.7,2080.3 L728.4,2082.9 L732.1,2085.5 L735.8,2088.1 L739.6,2090.6 L743.1,2093.3 L746.3,2096.3 L749.3,2099.7 L752.1,2103.2 L754.9,2106.8 L757.6,2110.4 L760.2,2114.0 L762.9,2117.7 L765.4,2121.3 L768.0,2125.0 L770.5,2128.8 L773.0,2132.5 L775.5,2136.2 L778.1,2140.0 L780.7,2143.7 L783.1,2147.5 L785.5,2151.3 L787.7,2155.2 L789.7,2159.1 L791.5,2163.2 L793.2,2167.3 L794.8,2171.5 L796.3,2175.7 L797.7,2180.0 L799.1,2184.2 L800.5,2188.6 L801.9,2192.9 L803.3,2197.2 L804.8,2201.4 L806.2,2205.7 L807.8,2209.9 L809.3,2214.1 L810.9,2218.3 L812.4,2222.6 L814.0,2226.8 L815.5,2231.0 L817.0,2235.2 L818.5,2239.4 L820.0,2243.7 L821.5,2247.9 L822.9,2252.2 L824.3,2256.4 L825.7,2260.7 L827.1,2265.0 L828.5,2269.3 L829.8,2273.5 L831.1,2277.8 L832.4,2282.1 L833.7,2286.4 L834.9,2290.8 L836.2,2295.1 L837.3,2299.4 L838.3,2303.8 L839.4,2308.2 L840.4,2312.6 L841.5,2316.9 L842.7,2321.2 L844.1,2325.5 L845.7,2329.7 L847.4,2333.9 L849.2,2338.0 L851.2,2342.0 L853.2,2346.0 L855.4,2349.9 L857.7,2353.7 L860.2,2357.5 L862.9,2361.2 L865.6,2364.8 L868.3,2368.3 L871.2,2371.7 L874.2,2375.1 L877.3,2378.4 L880.5,2381.6 L883.7,2384.7 L887.0,2387.7 L890.4,2390.7 L893.8,2393.6 L897.3,2396.4 L900.9,2399.1 L904.5,2401.7 L908.2,2404.3 L912.0,2406.8 L915.8,2409.2 L919.7,2411.5 L923.6,2413.7 L927.5,2415.8 L931.5,2417.8 L935.6,2419.6 L939.7,2421.5 L943.9,2423.2 L948.1,2424.9 L952.3,2426.5 L956.5,2428.0 L960.7,2429.5 L965.0,2430.9 L969.3,2432.3 L973.6,2433.6 L977.9,2434.9 L982.2,2436.1 L986.5,2437.3 L990.9,2438.4 L995.2,2439.4 L999.6,2440.5 L1004.0,2441.4 L1008.4,2442.4 L1012.8,2443.3 L1017.2,2444.3 L1021.6,2445.2 L1026.0,2446.2 L1030.3,2447.1 L1034.7,2448.0 L1039.1,2448.9 L1043.5,2449.9 L1047.9,2450.8 L1052.3,2451.7 L1056.7,2452.5 L1061.1,2453.4 L1065.5,2454.3 L1069.9,2455.2 L1074.3,2456.1 L1078.7,2456.9 L1083.2,2457.8 L1087.6,2458.7 L1092.0,2459.5 L1096.4,2460.4 L1100.8,2461.2 L1105.2,2462.1 L1109.6,2462.9 L1114.0,2463.7 L1118.4,2464.5 L1122.9,2465.3 L1127.3,2466.1 L1131.7,2466.9 L1136.1,2467.6 L1140.6,2468.4 L1145.0,2469.1 L1149.4,2469.9 L1153.8,2470.6 L1158.3,2471.4 L1162.7,2472.1 L1167.1,2472.9 L1171.5,2473.6 L1176.0,2474.4 L1180.4,2475.2 L1184.8,2476.0 L1189.2,2476.8 L1193.6,2477.6 L1198.1,2478.4 L1202.5,2479.2 L1206.9,2480.1 L1211.3,2480.9 L1215.7,2481.7 L1220.1,2482.5 L1224.6,2483.3 L1229.0,2484.1 L1233.4,2484.9 L1237.8,2485.7 L1242.2,2486.5 L1246.7,2487.3 L1251.1,2488.1 L1255.5,2488.9 L1259.9,2489.7 L1264.3,2490.5 L1268.7,2491.3 L1273.2,2492.1 L1277.6,2492.8 L1282.0,2493.6 L1286.4,2494.4 L1290.9,2495.2 L1295.3,2496.0 L1299.7,2496.8 L1304.1,2497.7 L1308.5,2498.7 L1312.8,2499.7 L1317.2,2500.8 L1321.5,2501.9 L1325.9,2503.0 L1330.2,2504.1 L1334.6,2505.2 L1339.0,2506.3 L1343.4,2507.3 L1347.7,2508.2 L1352.1,2509.2 L1356.5,2510.1 L1360.9,2511.0 L1365.3,2511.9 L1369.7,2512.8 L1374.1,2513.8 L1378.5,2514.7 L1382.9,2515.8 L1387.2,2516.8 L1391.6,2517.9 L1395.9,2519.0 L1400.3,2520.1 L1404.6,2521.2 L1409.0,2522.4 L1413.3,2523.6 L1417.6,2524.8 L1421.9,2526.0 L1426.3,2527.2 L1430.6,2528.5 L1434.9,2529.8 L1439.2,2531.0 L1443.5,2532.3 L1447.8,2533.6 L1452.1,2534.9 L1456.4,2536.2 L1460.7,2537.5 L1465.0,2538.8 L1469.3,2540.1 L1473.6,2541.5 L1477.8,2542.8 L1482.1,2544.2 L1486.4,2545.6 L1490.7,2547.0 L1494.9,2548.4 L1499.2,2549.8 L1503.4,2551.2 L1507.7,2552.7 L1512.0,2554.1 L1516.2,2555.6 L1520.5,2557.0 L1524.7,2558.5 L1528.9,2560.0 L1533.2,2561.4 L1537.4,2562.9 L1541.7,2564.4 L1545.9,2565.9 L1550.1,2567.4 L1554.4,2568.9 L1558.6,2570.4 L1562.8,2572.0 L1567.0,2573.5 L1571.2,2575.1 L1575.4,2576.6 L1579.6,2578.2 L1583.9,2579.7 L1588.1,2581.3 L1592.3,2582.9 L1596.5,2584.4 L1600.7,2586.0 L1604.9,2587.5 L1609.1,2589.1 L1613.4,2590.6 L1617.6,2592.1 L1621.8,2593.6 L1626.0,2595.1 L1630.3,2596.6 L1634.5,2598.1 L1638.8,2599.6 L1643.0,2601.0 L1647.2,2602.5 L1651.5,2604.0 L1655.7,2605.4 L1660.0,2606.9 L1664.2,2608.3 L1668.5,2609.8 L1672.7,2611.3 L1677.0,2612.7 L1681.2,2614.2 L1685.5,2615.6 L1689.7,2617.1 L1694.0,2618.6 L1698.2,2620.1 L1702.4,2621.6 L1706.7,2623.0 L1710.9,2624.5 L1715.1,2626.0 L1719.4,2627.5 L1723.6,2629.0 L1727.8,2630.5 L1732.1,2632.0 L1736.3,2633.5 L1740.5,2635.0 L1744.8,2636.5 L1749.0,2638.0" fill="none" stroke="#000" stroke-width="6.3" stroke-linejoin="round"/>
<line x1="459.1" y1="1595.1" x2="459.1" y2="1670.7" stroke="#000" stroke-width="7.3" stroke-linecap="butt"/>
<line x1="437.8" y1="1595.1" x2="480.4" y2="1595.1" stroke="#000" stroke-width="7.3" stroke-linecap="butt"/>
<line x1="437.8" y1="1670.7" x2="480.4" y2="1670.7" stroke="#000" stroke-width="7.3" stroke-linecap="butt"/>
<line x1="472.1" y1="1632.4" x2="472.1" y2="1667.5" stroke="#000" stroke-width="7.3" stroke-linecap="butt"/>
<line x1="450.8" y1="1632.4" x2="493.4" y2="1632.4" stroke="#000" stroke-width="7.3" stroke-linecap="butt"/>
<line x1="450.8" y1="1667.5" x2="493.4" y2="1667.5" stroke="#000" stroke-width="7.3" stroke-linecap="butt"/>
<line x1="493.8" y1="1648.2" x2="493.8" y2="1722.1" stroke="#000" stroke-width="7.3" stroke-linecap="butt"/>
<line x1="472.5" y1="1648.2" x2="515.1" y2="1648.2" stroke="#000" stroke-width="7.3" stroke-linecap="butt"/>
<line x1="472.5" y1="1722.1" x2="515.1" y2="1722.1" stroke="#000" stroke-width="7.3" stroke-linecap="butt"/>
<line x1="537.2" y1="1683.9" x2="537.2" y2="1758.5" stroke="#000" stroke-width="7.3" stroke-linecap="butt"/>
<line x1="515.9" y1="1683.9" x2="558.5" y2="1683.9" stroke="#000" stroke-width="7.3" stroke-linecap="butt"/>
<line x1="515.9" y1="1758.5" x2="558.5" y2="1758.5" stroke="#000" stroke-width="7.3" stroke-linecap="butt"/>
<line x1="580.5" y1="1784.8" x2="580.5" y2="1831.6" stroke="#000" stroke-width="7.3" stroke-linecap="butt"/>
<line x1="559.2" y1="1784.8" x2="601.8" y2="1784.8" stroke="#000" stroke-width="7.3" stroke-linecap="butt"/>
<line x1="559.2" y1="1831.6" x2="601.8" y2="1831.6" stroke="#000" stroke-width="7.3" stroke-linecap="butt"/>
<line x1="623.9" y1="1864.5" x2="623.9" y2="1927.8" stroke="#000" stroke-width="7.3" stroke-linecap="butt"/>
<line x1="602.6" y1="1864.5" x2="645.2" y2="1864.5" stroke="#000" stroke-width="7.3" stroke-linecap="butt"/>
<line x1="602.6" y1="1927.8" x2="645.2" y2="1927.8" stroke="#000" stroke-width="7.3" stroke-linecap="butt"/>
<line x1="667.3" y1="1939.8" x2="667.3" y2="2030.2" stroke="#000" stroke-width="7.3" stroke-linecap="butt"/>
<line x1="646.0" y1="1939.8" x2="688.6" y2="1939.8" stroke="#000" stroke-width="7.3" stroke-linecap="butt"/>
<line x1="646.0" y1="2030.2" x2="688.6" y2="2030.2" stroke="#000" stroke-width="7.3" stroke-linecap="butt"/>
<line x1="710.7" y1="2032.4" x2="710.7" y2="2111.6" stroke="#000" stroke-width="7.3" stroke-linecap="butt"/>
<line x1="689.4" y1="2032.4" x2="732.0" y2="2032.4" stroke="#000" stroke-width="7.3" stroke-linecap="butt"/>
<line x1="689.4" y1="2111.6" x2="732.0" y2="2111.6" stroke="#000" stroke-width="7.3" stroke-linecap="butt"/>
<line x1="754.1" y1="2055.7" x2="754.1" y2="2123.5" stroke="#000" stroke-width="7.3" stroke-linecap="butt"/>
<line x1="732.8" y1="2055.7" x2="775.4" y2="2055.7" stroke="#000" stroke-width="7.3" stroke-linecap="butt"/>
<line x1="732.8" y1="2123.5" x2="775.4" y2="2123.5" stroke="#000" stroke-width="7.3" stroke-linecap="butt"/>
<line x1="797.4" y1="2123.9" x2="797.4" y2="2234.7" stroke="#000" stroke-width="7.3" stroke-linecap="butt"/>
<line x1="776.1" y1="2123.9" x2="818.7" y2="2123.9" stroke="#000" stroke-width="7.3" stroke-linecap="butt"/>
<line x1="776.1" y1="2234.7" x2="818.7" y2="2234.7" stroke="#000" stroke-width="7.3" stroke-linecap="butt"/>
<line x1="840.8" y1="2263.7" x2="840.8" y2="2338.6" stroke="#000" stroke-width="7.3" stroke-linecap="butt"/>
<line x1="819.5" y1="2263.7" x2="862.1" y2="2263.7" stroke="#000" stroke-width="7.3" stroke-linecap="butt"/>
<line x1="819.5" y1="2338.6" x2="862.1" y2="2338.6" stroke="#000" stroke-width="7.3" stroke-linecap="butt"/>
<line x1="884.2" y1="2399.1" x2="884.2" y2="2487.0" stroke="#000" stroke-width="7.3" stroke-linecap="butt"/>
<line x1="862.9" y1="2399.1" x2="905.5" y2="2399.1" stroke="#000" stroke-width="7.3" stroke-linecap="butt"/>
<line x1="862.9" y1="2487.0" x2="905.5" y2="2487.0" stroke="#000" stroke-width="7.3" stroke-linecap="butt"/>
<line x1="1318.0" y1="2429.0" x2="1318.0" y2="2527.5" stroke="#000" stroke-width="7.3" stroke-linecap="butt"/>
<line x1="1296.7" y1="2429.0" x2="1339.3" y2="2429.0" stroke="#000" stroke-width="7.3" stroke-linecap="butt"/>
<line x1="1296.7" y1="2527.5" x2="1339.3" y2="2527.5" stroke="#000" stroke-width="7.3" stroke-linecap="butt"/>
<line x1="1751.8" y1="2604.5" x2="1751.8" y2="2668.5" stroke="#000" stroke-width="7.3" stroke-linecap="butt"/>
<line x1="1730.5" y1="2604.5" x2="1773.1" y2="2604.5" stroke="#000" stroke-width="7.3" stroke-linecap="butt"/>
<line x1="1730.5" y1="2668.5" x2="1773.1" y2="2668.5" stroke="#000" stroke-width="7.3" stroke-linecap="butt"/>
<rect x="432.8" y="1614.5" width="33.4" height="33.2" fill="#000"/>
<rect x="441.5" y="1614.5" width="33.4" height="33.2" fill="#000"/>
<rect x="454.5" y="1631.6" width="33.4" height="33.2" fill="#000"/>
<rect x="476.2" y="1666.7" width="33.4" height="33.2" fill="#000"/>
<rect x="519.6" y="1702.8" width="33.4" height="33.2" fill="#000"/>
<rect x="562.9" y="1789.8" width="33.4" height="33.2" fill="#000"/>
<rect x="606.3" y="1877.8" width="33.4" height="33.2" fill="#000"/>
<rect x="649.7" y="1966.6" width="33.4" height="33.2" fill="#000"/>
<rect x="693.1" y="2053.6" width="33.4" height="33.2" fill="#000"/>
<rect x="736.5" y="2071.2" width="33.4" height="33.2" fill="#000"/>
<rect x="779.8" y="2160.9" width="33.4" height="33.2" fill="#000"/>
<rect x="823.2" y="2282.8" width="33.4" height="33.2" fill="#000"/>
<rect x="866.6" y="2424.7" width="33.4" height="33.2" fill="#000"/>
<rect x="1300.4" y="2459.8" width="33.4" height="33.2" fill="#000"/>
<rect x="1734.2" y="2618.1" width="33.4" height="33.2" fill="#000"/>
</g>
</svg>
</body>
</html>
